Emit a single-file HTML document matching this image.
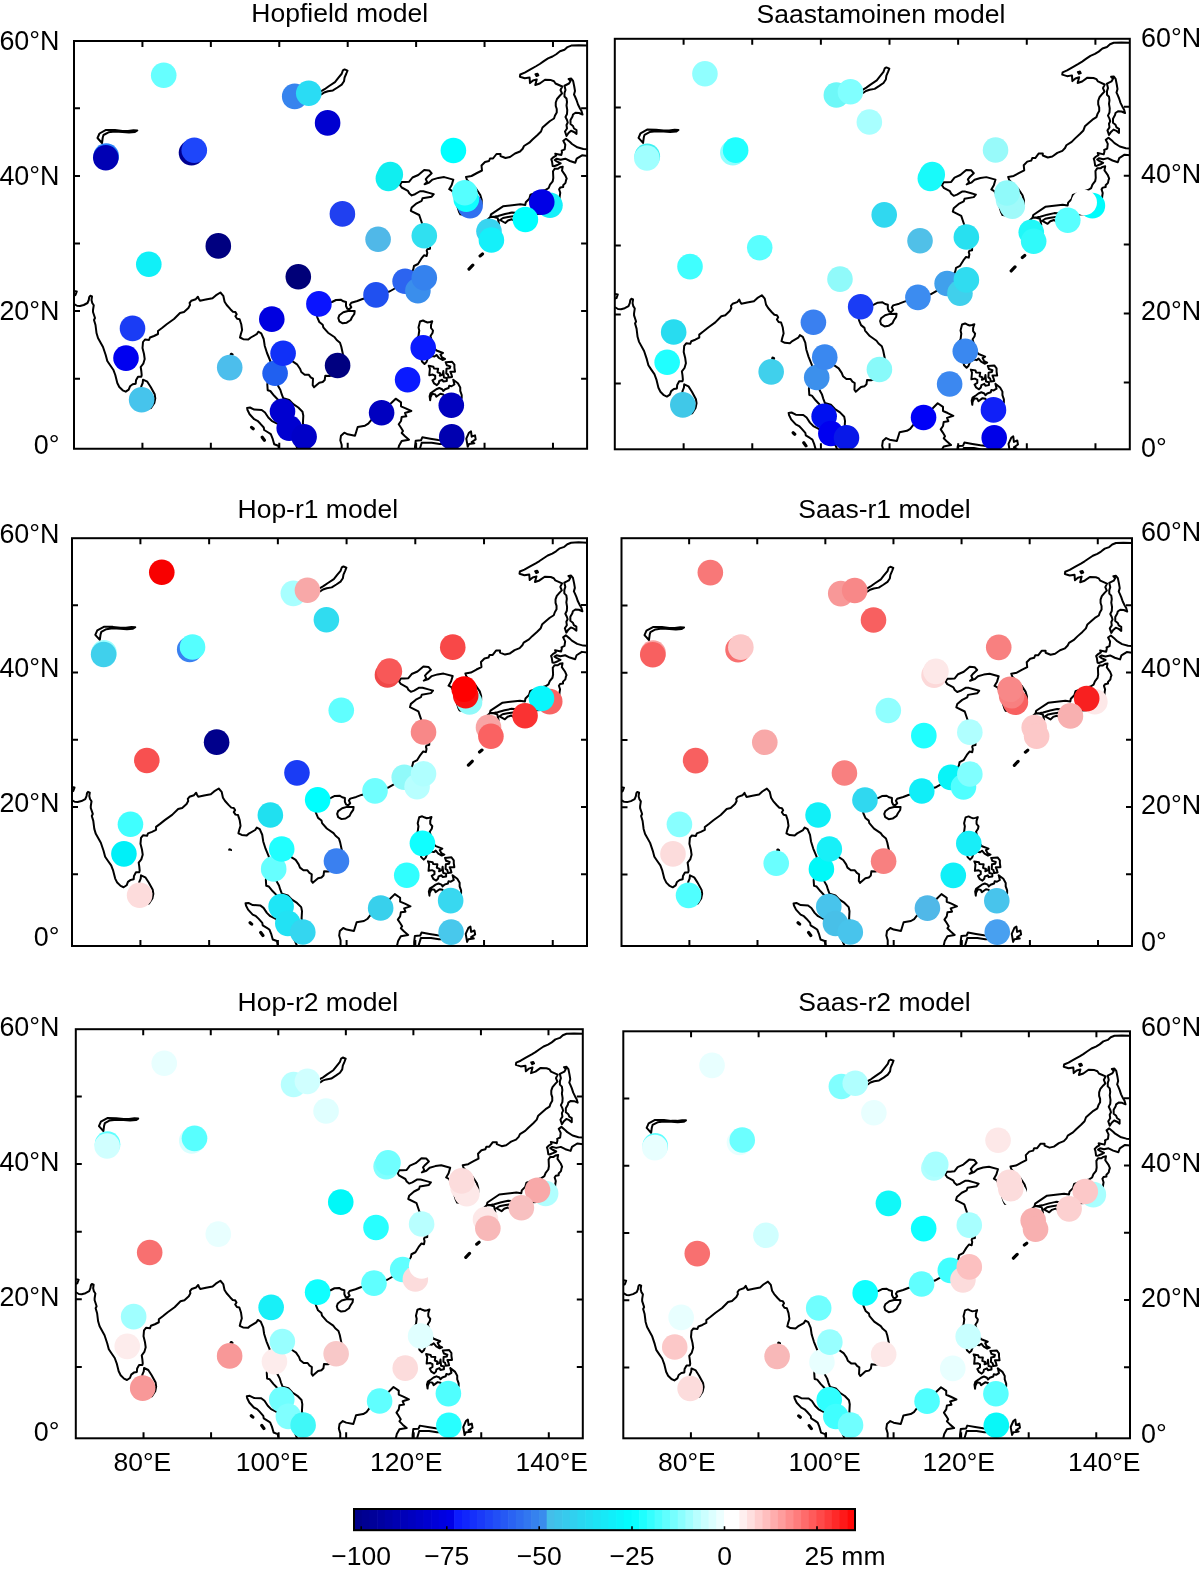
<!DOCTYPE html><html><head><meta charset="utf-8"><style>html,body{margin:0;padding:0;background:#fff;width:1200px;height:1574px;overflow:hidden}svg{position:absolute;left:0;top:0;display:block;will-change:transform}text{font-family:"Liberation Sans", sans-serif;font-size:26.5px;fill:#000}</style></head><body>
<svg width="1200" height="1574" viewBox="0 0 1200 1574">
<clipPath id="c0"><rect x="74" y="41" width="513.1" height="407.75"/></clipPath>
<g clip-path="url(#c0)">
<path d="M74.5 304.25 77 305.75 80 306 83.75 305 87.5 303 88.75 300 89.25 297 90.25 295.75 92 296.5 91.5 300 92.25 303 93.75 305.25 93 310 93 312 95 318 94 320 95.5 325 96.5 333 98 338 103 347 105.7 355 107.3 361 110 365 113.3 369.7 115.3 375 117.3 383 119.3 387 122.7 390.3 125.7 391.7 128.7 389.7 130 386.3 132.7 384.3 135.7 383.7 136 380.3 138 376.7 141.3 376.7 141.7 375 141.3 371 140.7 367 143.3 363.7 144.7 359 144 354 142.5 348 143 342 145 339.5 149 340 150 337.5 154 336 158 334 158 331 162 328 167 324 174 319 180 313 184 312 188.4 308 190 305 189.6 302.9 191.25 300.8 195.8 299.2 197.9 296.7 198.75 298.75 200 300.8 205.8 299.6 212.5 298.3 215.8 295.4 220.4 292.5 223.3 295.8 224.6 301.7 226.7 305 230.4 309.2 232.9 311.7 235.4 312.1 236.7 314.2 235.4 316.25 237.1 318.75 239.6 319.2 241.25 324.2 242.1 330 240.8 334.2 240 337.5 243.3 339.2 248.3 339.6 250.8 337.5 256.7 334.2 258.3 331.7 261.25 333.3 263.7 339 264.7 345.7 267 353 270.3 361 271 368 269.5 376 267.3 384.3 267.7 390.3 270.3 391 274.2 395.8 277.5 399.2 283 406 289 415 295 425 300 433 305 440 307 437 305 430 302.9 423.3 303.3 415.8 302.5 411.7 298.3 407.5 293.3 404.2 289.2 400 283.3 398.3 281.7 394.2 280.4 390 278.3 386.3 276 380 276 372 279 365 282.7 357 287 358 293 361.7 297 364.3 300 368.7 301.3 372 304.7 374.7 308.7 374.7 310.7 377.3 313 378.7 312.7 385.3 314 387.3 319.3 382.7 322.7 382 324.7 380 325.3 375.7 329.3 376 338 374 343 368 344 360 342.7 353.3 341.3 346.7 340 342.7 336.7 340 334.7 337.3 328 332.7 323.3 327.3 322.7 324.7 319.3 322 317.3 317.3 316 312 320 305 326 303 332 302 336 300 340.7 299.7 343.3 301.3 346 302 346 306 347.3 308.7 349.3 309.3 351.3 307.3 350 304.7 351.3 302.7 357.3 301 362.5 299 370 297 376 295 383 293 389.5 291.5 394.75 288.5 400 285 406 280 411 274 413.3 269.3 414 266 418 264 421.3 258.7 424 255.3 426.7 256 427.3 252.7 426.7 250.7 427.3 249.3 430 248.7 430 242 426 232 422 223.3 419.2 215 410.8 210.8 411.7 207.5 416.7 203.3 421.7 200.8 422.5 198.3 431.7 196.7 433.75 194.2 429.2 192.9 423.3 191.25 420 191.25 415 194.2 411.7 195.4 409.2 193.3 407.9 190.8 401.7 187.5 400 185 401.7 182.1 405 182.1 409.2 181.7 412.5 177.5 418.3 175 424.2 170 429.2 170.4 431.7 173.3 427.9 176.7 425.8 179.2 427.1 182.1 424.6 184.2 429.2 182.5 432.5 179.6 438.3 177.9 444.2 177.1 453.3 179.6 451.7 185 449.2 189.2 452.1 190.8 455 196 456 202 459 211.7 460.3 214.3 466 215 472 213 477.7 210 481.7 204 481.7 199.7 480.3 195 476.3 189 470 183 467 180 466 177 471.5 176 477 173 482 170.5 481.5 165.5 485 162 489 161 490 158.5 493 158.5 496.5 154 500.5 154 500.5 156 505.5 158 510 157 515 153.5 520 151.5 522.7 148.7 524 146 529.3 142.7 532.5 139.5 537.5 135 541 131.5 542.5 127.5 546.5 124 550 121 554 118.5 555 115.5 556.75 112.5 556.75 109 555.75 106 555.75 102.5 557 99 560 95.5 562 93.5 560.5 90 562.25 86.5 555.5 83.5 554 81.25 551 80.1 545 79.75 539.75 83.5 535.25 85 536.75 79.4 533 80.5 530 83.1 529.6 77.5 524.75 78.25 519.9 76.75 520.25 74.5 524.75 72.6 530 69.6 536 66.25 539.75 64 543.5 61.4 548 58.4 552.5 56.5 556.25 54.25 560 51.25 564.5 49.75 567.5 47.1 571.25 45.6 578.75 45.25 588 45.6M74 291 76.8 291.5 75.5 295 74 295.5M141.3 386.3 142.7 383 143 379.7 147.3 381.7 150.7 387 154.7 394.3 155.3 398.3 154.3 403 151 408 146 409 142 404 140.5 396 141.3 386.3M339.3 315.3 343.3 312.3 348 311 354.7 311 354.3 314 352 317.3 350.7 320 346.7 322.7 342.7 323.3 339.3 321.3 338.3 318 339.3 315.3M428.5 275.5 430 280 427.5 291 423.5 299 420 292 421.5 283 424.5 277 428.5 275.5M102 143 97.5 138 99.5 133.5 106 129.9 115 130 122.5 130.9 128 130.9 133.5 130.2 137.3 130.4 135 131.9 129 132.4 122.5 131.9 115 131.5 108.5 132.3 103.5 135 102.75 137.5 102 143M316 95.5 321.7 90.8 324.6 89.2 328.75 86.25 335 82.1 338.3 77.9 341.7 73.75 342.9 70.4 344.6 69.4 347.5 70.6 346.25 73.75 344.6 77.5 344 81.25 341.7 84.6 337.5 87.5 332.9 90.4 327.9 91.25 324.2 92.5 321.7 94.2 316 95.5M279.2 450 278.3 445.8 274.2 444.2 272.5 438.3 270.8 434.2 268.3 432.5 264.2 430 263.75 427.5 260 423.3 257.5 420.8 254.2 419.2 249.6 414.2 247.5 410 247.1 407.9 250 407.5 254.2 409.6 261.7 410 265 412.5 268.3 417.5 271.7 420.8 276.7 423.3 282 427 288 433 294 440 298 450M341.7 450 341.7 445 340.3 440.3 341 435.7 344.3 432.7 347.7 434.3 355 435.7 357.7 427 365 425.7 368.3 423.7 371 420.3 376 416 382 411 387 407 391 403.3 395.7 398.7 401 402.3 401 406.3 405.7 408.3 411.3 411 405 413 406.3 416.3 401.7 417 401 421 398.7 424.3 401 427.7 403 431 401.7 433 405 436.3 409 439.7 401.7 441 399 445.7 398 450M415 450 415 446.7 415.7 440.7 421 440.3 422.3 437.3 430.3 438.7 438.3 440 446 441 452 439 456 440 452 443 446 444 439.7 444 431.7 442.7 421.7 442.7 419.5 450M467.7 446.7 466.3 438.7 469 432.7 471 431.3 471.7 436.7 475 435.3 475.7 439.3 471.7 442 474.3 443.3 469 444 467.7 446.7M418.5 336 419.25 330.5 418.5 327.5 420 321.5 423 320.5 425 321.5 427.5 322.5 430 322 432.25 321.25 431 325 431 328 433 330.5 432.5 333 430.5 336 432 342 434 348 436.5 350.5 443 353 440.5 354.5 442 357.5 445 359 442.5 360 439 358 436.5 355 434.5 356.5 432 356 428 358 426.5 362 424.5 364 422 361.5 421 357 418 352 415 345 416 340 418.5 336M428.75 365.8 433.4 366.7 434 368.5 438.1 368.75 437.5 372.25 440.4 373.4 439.8 375.75 442.75 374.6 443.3 371.1 443.9 377.5 446.8 378.1 446.8 381 443.3 381.6 442.2 379.8 439.25 381 438.7 383.3 436.9 385.1 434 383.3 432.5 380.4 435.2 378.7 435.2 375.75 432.8 374.6 429.3 375.2 429.9 368.75 428.75 365.8M445.7 362.3 452.1 361.75 454.4 364.7 454.4 367.6 455 371.7 450.3 371.7 451.5 374.6 452.1 376.9 448.6 377.5 448 374.6 446.25 373.4 446.5 368.75 449.75 368.2 450.3 366.4 446.8 365.25 445.7 362.3M453.25 379.8 457.9 383.3 460.25 387.4 460.25 390.9 461.7 395 461.7 397.9 460 402 455 406 448 404 445 398 443.3 394.4 440.4 393.8 436.3 396.75 435.2 394.4 432.25 393.8 430.5 397.3 430.2 400.25 429.6 396.2 430.5 393.25 434 390.9 436.3 389.2 439.25 388 442.2 389.2 443.3 390.9 445.1 389.2 448.6 388 449.2 385.7 451.5 386.25 454.4 384.5 453.25 379.8M553 171.3 553.3 178 552.7 181.3 550 184.7 548.7 188 545.7 189.9 538 192 530.5 194.6 529.3 198.7 525.8 202.2 525.25 205.1 520.3 204.3 503 206.3 491 214.3 490.3 217 495 216.5 498 216 505 214 512 212.5 518 213 524 219 530 216 537 214 545 213.5 551.6 208.9 559 206 559.7 196.3 560.25 192.8 559.1 189.3 560.25 187.6 563.2 187 563.2 185.25 565.5 182.9 566.1 180 566.7 178.7 565.3 175.3 562 170.7 562.7 166.7 560 167.3 558 168.7 554.7 168.7 553 171.3M490.3 217 493 216.8 497.7 218 499 224 496 231 490 233 487 227 486 221 490.3 217M500 220 505.3 223 508 220.5 511.7 219.3 515 221 518 220 515 216 508 217 503 218 500 220M552.7 166 552 161.3 551.3 159.3 553.3 157.3 556 155.7 555.3 153.7 561.3 155 562 152 561.7 150.7 564.7 149.3 565.3 144.7 563.3 140.7 566 138.7 570 142 572 144 577.3 147.3 583.3 149 588 149.3 588 156 582 155.3 576.7 158.7 575.3 162.7 570 161 565.3 158.7 560.7 159.7 556.7 158.7 554.7 160 556.7 161.3 560.7 163.3 558 164.7 554 166.3 552.7 166M565.5 90 564.5 93 564.5 96.5 566.5 98.5 567 102 566.5 105.5 567.25 110 567 114 565.5 117 567 120 567.75 122.5 566.5 125 567 128.5 565 131.5 566.5 136 568.5 133 571 130.75 574 132 576.5 134 576.5 130 574 128.5 573 126 570.5 124 570.5 120 572.5 116.5 573 114.5 575.5 112.75 579 113 582.5 114.5 581.5 111 580 108.5 578 104.5 576.5 100 575 96.5 574 94.5 575 91 574.25 86.5 573.1 80.9 571.25 78.6 568.6 79 570.5 80.9 569 83.5 566 85 564.5 85.75 565.5 90M535.5 74.3 537.5 73.8 538.3 75.3 536.5 76 535.5 74.3" fill="none" stroke="#000" stroke-width="2" stroke-linejoin="round" stroke-linecap="round"/>
<path d="M251.6 427.4 253.2 428.8M262.2 437.2 264.4 440.2M480.1 255.9 482.5 254M469 269.1 472.8 265.2M231.3 354.3 232 354.6" fill="none" stroke="#000" stroke-width="3.2" stroke-linecap="round"/>
<circle cx="163.7" cy="75.2" r="12.8" fill="#66ffff"/>
<circle cx="106.2" cy="156" r="12.8" fill="#2882fa"/>
<circle cx="105.8" cy="157.8" r="12.8" fill="#0000b4"/>
<circle cx="191.5" cy="152.7" r="12.8" fill="#000090"/>
<circle cx="194.3" cy="150.2" r="12.8" fill="#1e46fa"/>
<circle cx="294.7" cy="96.4" r="12.8" fill="#3784ee"/>
<circle cx="308.75" cy="93.2" r="12.8" fill="#2adcf4"/>
<circle cx="327.6" cy="122.9" r="12.8" fill="#0000d0"/>
<circle cx="218.3" cy="245.9" r="12.8" fill="#000080"/>
<circle cx="453.4" cy="150.5" r="12.8" fill="#00ffff"/>
<circle cx="388.4" cy="178.4" r="12.8" fill="#10eef0"/>
<circle cx="390.3" cy="174.6" r="12.8" fill="#10eef0"/>
<circle cx="470.1" cy="205.6" r="12.8" fill="#3070f0"/>
<circle cx="466.3" cy="199.2" r="12.8" fill="#10ffff"/>
<circle cx="464.8" cy="192.7" r="12.8" fill="#55ffff"/>
<circle cx="549.95" cy="205.25" r="12.8" fill="#14f0fa"/>
<circle cx="541.75" cy="202.1" r="12.8" fill="#0000e6"/>
<circle cx="525.4" cy="219.5" r="12.8" fill="#00ffff"/>
<circle cx="489" cy="231.2" r="12.8" fill="#38d4f0"/>
<circle cx="491.4" cy="240" r="12.8" fill="#14f0fa"/>
<circle cx="342.4" cy="213.9" r="12.8" fill="#2040f0"/>
<circle cx="378.1" cy="239.3" r="12.8" fill="#50b8e8"/>
<circle cx="424.3" cy="235.8" r="12.8" fill="#30e0f0"/>
<circle cx="148.8" cy="264.3" r="12.8" fill="#10f0f8"/>
<circle cx="298.3" cy="276.8" r="12.8" fill="#000078"/>
<circle cx="318.9" cy="303.9" r="12.8" fill="#0a14ff"/>
<circle cx="132.5" cy="328.4" r="12.8" fill="#1a3cf5"/>
<circle cx="126" cy="358.1" r="12.8" fill="#0000f0"/>
<circle cx="141.6" cy="399.8" r="12.8" fill="#46c4ec"/>
<circle cx="229.7" cy="367.6" r="12.8" fill="#4cbeec"/>
<circle cx="271.8" cy="319.1" r="12.8" fill="#0000e0"/>
<circle cx="275.1" cy="373.3" r="12.8" fill="#2060f0"/>
<circle cx="283.1" cy="353.3" r="12.8" fill="#1030f8"/>
<circle cx="337.6" cy="365.5" r="12.8" fill="#000080"/>
<circle cx="282.5" cy="411.2" r="12.8" fill="#0000d0"/>
<circle cx="289.2" cy="428.1" r="12.8" fill="#0000d0"/>
<circle cx="304.1" cy="436.7" r="12.8" fill="#0000c8"/>
<circle cx="376" cy="294.9" r="12.8" fill="#2050f0"/>
<circle cx="405.1" cy="281.3" r="12.8" fill="#2c64f0"/>
<circle cx="417.9" cy="290.8" r="12.8" fill="#3a8eec"/>
<circle cx="424.3" cy="277.8" r="12.8" fill="#3582ee"/>
<circle cx="423.2" cy="347.7" r="12.8" fill="#0a1aff"/>
<circle cx="407.6" cy="379.8" r="12.8" fill="#0a1aff"/>
<circle cx="381.6" cy="412.7" r="12.8" fill="#0000c0"/>
<circle cx="451.3" cy="405.3" r="12.8" fill="#0000c0"/>
<circle cx="451.75" cy="436.9" r="12.8" fill="#0000b0"/>
</g>
<rect x="74" y="41" width="513.1" height="407.75" fill="none" stroke="#000" stroke-width="2"/>
<path d="M142.43 41v6M142.43 448.75v-6M210.85 41v6M210.85 448.75v-6M279.27 41v6M279.27 448.75v-6M347.7 41v6M347.7 448.75v-6M416.12 41v6M416.12 448.75v-6M484.55 41v6M484.55 448.75v-6M552.98 41v6M552.98 448.75v-6M74 378.7h6M587.1 378.7h-6M74 311.1h6M587.1 311.1h-6M74 243.5h6M587.1 243.5h-6M74 175.9h6M587.1 175.9h-6M74 108.3h6M587.1 108.3h-6" stroke="#000" stroke-width="2" fill="none"/>
<text x="251.3" y="22.2">Hopfield model</text>
<text x="59.5" y="50.15" text-anchor="end" style="font-size:26.9px">60°N</text>
<text x="59.5" y="184.85" text-anchor="end" style="font-size:26.9px">40°N</text>
<text x="59.5" y="319.55" text-anchor="end" style="font-size:26.9px">20°N</text>
<text x="59.5" y="454.25" text-anchor="end" style="font-size:26.9px">0°</text>
<clipPath id="c1"><rect x="614.8" y="38.8" width="515" height="410.5"/></clipPath>
<g clip-path="url(#c1)">
<path d="M615.49 307.48 618 309.01 621.01 309.25 624.77 308.23 628.53 306.18 629.78 303.12 630.28 300.06 631.29 298.78 633.04 299.54 632.54 303.11 633.29 306.17 634.8 308.47 634.05 313.31 634.05 315.35 636.05 321.47 635.05 323.51 636.56 328.61 637.56 336.77 639.07 341.87 644.08 351.04 646.79 359.19 648.4 365.31 651.11 369.39 654.42 374.17 656.42 379.58 658.43 387.73 660.44 391.81 663.85 395.17 666.86 396.59 669.87 394.55 671.17 391.08 673.88 389.03 676.89 388.42 677.19 384.95 679.19 381.27 682.5 381.27 682.9 379.53 682.5 375.45 681.9 371.37 684.51 368 685.91 363.2 685.21 358.11 683.7 351.99 684.21 345.87 686.21 343.31 690.22 343.82 691.23 341.26 695.24 339.73 699.25 337.68 699.25 334.62 703.26 331.55 708.28 327.46 715.3 322.35 721.32 316.22 725.33 315.19 729.74 311.1 731.35 308.04 730.94 305.9 732.6 303.75 737.16 302.11 739.27 299.56 740.12 301.65 741.38 303.74 747.19 302.5 753.91 301.17 757.22 298.2 761.84 295.24 764.75 298.6 766.05 304.61 768.16 307.98 771.87 312.25 774.38 314.8 776.89 315.2 778.19 317.34 776.89 319.44 778.59 321.98 781.1 322.44 782.76 327.54 783.61 333.45 782.31 337.74 781.5 341.11 784.81 342.83 789.83 343.23 792.34 341.09 798.26 337.71 799.86 335.16 802.82 336.78 805.28 342.59 806.28 349.43 808.59 356.87 811.9 365.02 812.6 372.16 811.1 380.33 808.89 388.8 809.3 394.92 811.9 395.63 815.82 400.51 819.13 403.98 824.64 410.9 830.66 420.07 836.68 430.26 841.7 438.42 846.72 445.55 848.72 442.48 846.71 435.35 844.61 428.52 845.01 420.86 844.21 416.68 839.99 412.41 834.98 409.05 830.86 404.77 824.94 403.05 823.34 398.87 822.03 394.59 819.93 390.82 817.62 384.39 817.62 376.23 820.63 369.09 824.34 360.92 828.65 361.93 834.67 365.7 838.68 368.34 841.69 372.83 843 376.19 846.41 378.94 850.42 378.93 852.43 381.58 854.73 383 854.43 389.74 855.74 391.77 861.05 387.07 864.46 386.35 866.47 384.31 867.07 379.92 871.08 380.22 879.81 378.16 884.83 372.04 885.83 363.87 884.52 357.04 883.12 350.31 881.81 346.23 878.5 343.48 876.5 340.73 869.78 336.05 865.06 330.55 864.46 327.9 861.05 325.15 859.04 320.36 857.74 314.96 861.75 307.81 867.77 305.76 873.78 304.73 877.8 302.68 882.51 302.37 885.12 304 887.83 304.71 887.83 308.79 889.13 311.54 891.14 312.15 893.14 310.1 891.84 307.45 893.14 305.41 899.16 303.67 904.38 301.62 911.9 299.56 917.92 297.51 924.94 295.46 931.46 293.92 936.73 290.85 941.99 287.27 948.01 282.16 953.02 276.03 955.33 271.23 956.03 267.86 960.05 265.82 963.35 260.4 966.06 256.93 968.77 257.64 969.37 254.27 968.77 252.23 969.37 250.81 972.08 250.19 972.08 243.35 968.07 233.16 964.05 224.29 961.24 215.83 952.82 211.56 953.72 208.19 958.73 203.9 963.75 201.34 964.55 198.79 973.78 197.14 975.84 194.59 971.27 193.27 965.35 191.6 962.04 191.6 957.03 194.62 953.72 195.85 951.21 193.71 949.91 191.17 943.69 187.81 941.98 185.26 943.69 182.3 947 182.3 951.21 181.88 954.52 177.59 960.34 175.03 966.25 169.92 971.27 170.32 973.78 173.27 969.97 176.75 967.86 179.3 969.16 182.26 966.66 184.4 971.27 182.66 974.58 179.7 980.4 177.95 986.32 177.13 995.44 179.66 993.84 185.17 991.33 189.46 994.24 191.09 997.15 196.39 998.16 202.51 1001.17 212.39 1002.47 215.04 1008.19 215.75 1014.21 213.7 1019.92 210.63 1023.94 204.5 1023.93 200.11 1022.53 195.32 1018.52 189.21 1012.2 183.1 1009.19 180.04 1008.18 176.99 1013.7 175.96 1019.22 172.89 1024.23 170.33 1023.73 165.23 1027.24 161.65 1031.25 160.62 1032.26 158.07 1035.27 158.07 1038.78 153.47 1042.79 153.46 1042.79 155.5 1047.8 157.54 1052.32 156.51 1057.33 152.93 1062.35 150.88 1065.06 148.02 1066.36 145.26 1071.68 141.89 1074.88 138.62 1079.9 134.02 1083.41 130.44 1084.91 126.36 1088.93 122.78 1092.44 119.71 1096.45 117.16 1097.45 114.1 1099.21 111.03 1099.21 107.46 1098.2 104.4 1098.2 100.83 1099.46 97.26 1102.46 93.69 1104.47 91.64 1102.97 88.07 1104.72 84.5 1097.95 81.45 1096.44 79.16 1093.44 77.99 1087.42 77.65 1082.15 81.48 1077.64 83.02 1079.14 77.3 1075.38 78.43 1072.37 81.09 1071.97 75.38 1067.1 76.15 1062.24 74.63 1062.59 72.33 1067.1 70.39 1072.37 67.32 1078.39 63.89 1082.15 61.59 1085.91 58.93 1090.42 55.86 1094.94 53.92 1098.7 51.61 1102.46 48.55 1106.97 47.01 1109.98 44.3 1113.74 42.76 1121.27 42.39 1130.55 42.73M614.99 293.96 617.8 294.47 616.49 298.04 614.99 298.55M682.5 391.06 683.91 387.69 684.21 384.32 688.52 386.36 691.93 391.76 695.95 399.2 696.55 403.27 695.55 408.07 692.24 413.18 687.22 414.21 683.21 409.11 681.7 400.95 682.5 391.06M881.11 318.28 885.12 315.22 889.83 313.88 896.56 313.87 896.15 316.93 893.85 320.3 892.54 323.06 888.53 325.82 884.52 326.44 881.11 324.41 880.11 321.04 881.11 318.28M970.58 277.53 972.08 282.12 969.58 293.34 965.57 301.51 962.05 294.37 963.56 285.19 966.57 279.07 970.58 277.53M643.06 142.94 638.54 137.85 640.55 133.26 647.07 129.58 656.1 129.66 663.62 130.57 669.14 130.56 674.65 129.83 678.46 130.03 676.16 131.56 670.14 132.08 663.62 131.59 656.1 131.19 649.58 132.02 644.56 134.78 643.81 137.33 643.06 142.94M857.71 94.11 863.43 89.31 866.34 87.67 870.5 84.66 876.77 80.41 880.08 76.12 883.49 71.88 884.69 68.46 886.4 67.44 889.31 68.66 888.05 71.88 886.4 75.7 885.8 79.53 883.49 82.95 879.28 85.92 874.66 88.88 869.65 89.76 865.94 91.04 863.43 92.78 857.71 94.11M820.84 455.79 819.93 451.51 815.82 449.89 814.12 443.87 812.41 439.69 809.9 437.96 805.79 435.42 805.34 432.87 801.58 428.59 799.07 426.05 795.76 424.42 791.14 419.33 789.04 415.05 788.63 412.91 791.54 412.49 795.76 414.63 803.28 415.02 806.59 417.57 809.9 422.66 813.31 426.02 818.33 428.56 823.64 432.33 829.66 438.44 835.68 445.57 839.7 455.76M883.53 455.68 883.53 450.58 882.13 445.79 882.83 441.1 886.14 438.03 889.55 439.66 896.87 441.07 899.58 432.19 906.9 430.85 910.21 428.81 912.92 425.34 917.93 420.94 923.95 415.83 928.97 411.74 932.98 407.96 937.69 403.26 943.01 406.92 943.01 411 947.72 413.03 953.34 415.78 947.02 417.83 948.33 421.19 943.71 421.92 943.01 426 940.7 429.37 943.01 432.83 945.02 436.19 943.71 438.24 947.02 441.6 951.04 445.06 943.71 446.4 941.01 451.2 940 455.58M957.06 455.55 957.06 452.19 957.76 446.07 963.07 445.65 964.38 442.59 972.4 444 980.43 445.31 988.15 446.32 994.17 444.27 998.18 445.28 994.17 448.35 988.15 449.38 981.83 449.39 973.81 448.08 963.78 448.1 961.57 455.55M1009.92 452.1 1008.51 443.94 1011.22 437.81 1013.23 436.38 1013.93 441.89 1017.24 440.45 1017.94 444.53 1013.93 447.29 1016.54 448.62 1011.22 449.34 1009.92 452.1M960.55 339.26 961.31 333.65 960.55 330.59 962.06 324.47 965.07 323.44 967.07 324.46 969.58 325.47 972.09 324.96 974.35 324.19 973.09 328.02 973.09 331.08 975.1 333.62 974.6 336.18 972.59 339.24 974.1 345.36 976.1 351.47 978.61 354.02 985.13 356.56 982.62 358.09 984.13 361.15 987.14 362.68 984.63 363.7 981.12 361.67 978.61 358.61 976.61 360.14 974.1 359.64 970.09 361.69 968.58 365.77 966.58 367.81 964.07 365.27 963.06 360.68 960.06 355.58 957.05 348.45 958.05 343.35 960.55 339.26M970.84 369.64 975.5 370.55 976.11 372.39 980.22 372.63 979.62 376.2 982.53 377.37 981.92 379.77 984.88 378.59 985.44 375.02 986.04 381.55 988.95 382.16 988.95 385.11 985.44 385.73 984.33 383.9 981.37 385.13 980.82 387.47 979.02 389.31 976.11 387.48 974.6 384.53 977.31 382.79 977.31 379.78 974.9 378.61 971.39 379.23 971.99 372.65 970.84 369.64M987.84 366.04 994.26 365.47 996.57 368.47 996.57 371.43 997.17 375.61 992.46 375.62 993.66 378.58 994.26 380.92 990.75 381.54 990.15 378.58 988.39 377.36 988.64 372.62 991.9 372.05 992.46 370.21 988.95 369.05 987.84 366.04M995.42 383.88 1000.08 387.44 1002.44 391.62 1002.44 395.19 1003.89 399.37 1003.9 402.33 1002.19 406.51 997.18 410.6 990.15 408.57 987.14 402.46 985.44 398.79 982.53 398.18 978.42 401.2 977.31 398.8 974.35 398.2 972.6 401.77 972.3 404.78 971.7 400.65 972.6 397.64 976.11 395.23 978.42 393.5 981.37 392.27 984.33 393.49 985.44 395.22 987.24 393.48 990.75 392.25 991.36 389.9 993.66 390.46 996.57 388.67 995.42 383.88M1095.45 171.02 1095.75 177.85 1095.15 181.22 1092.44 184.69 1091.14 188.06 1088.13 190 1080.41 192.16 1072.88 194.83 1071.68 199.01 1068.17 202.59 1067.62 205.55 1062.65 204.74 1045.3 206.81 1033.27 214.99 1032.56 217.75 1037.28 217.23 1040.29 216.71 1047.31 214.66 1054.33 213.12 1060.35 213.62 1066.37 219.73 1072.39 216.66 1079.41 214.6 1087.43 214.08 1094.05 209.38 1101.47 206.4 1102.18 196.51 1102.73 192.94 1101.57 189.37 1102.73 187.63 1105.68 187.02 1105.68 185.23 1107.99 182.83 1108.59 179.87 1109.19 178.54 1107.79 175.08 1104.48 170.39 1105.18 166.31 1102.47 166.93 1100.47 168.36 1097.16 168.36 1095.45 171.02M1032.56 217.75 1035.27 217.54 1039.99 218.75 1041.29 224.87 1038.28 232.02 1032.26 234.07 1029.25 227.95 1028.25 221.83 1032.56 217.75M1042.29 220.79 1047.61 223.84 1050.32 221.29 1054.03 220.05 1057.34 221.78 1060.35 220.76 1057.34 216.68 1050.32 217.71 1045.3 218.74 1042.29 220.79M1095.15 165.61 1094.45 160.82 1093.75 158.78 1095.75 156.74 1098.46 155.1 1097.76 153.06 1103.78 154.38 1104.48 151.32 1104.18 149.99 1107.19 148.56 1107.79 143.86 1105.78 139.79 1108.49 137.74 1112.5 141.1 1114.51 143.14 1119.82 146.49 1125.84 148.22 1130.56 148.52 1130.56 155.35 1124.54 154.65 1119.22 158.12 1117.82 162.21 1112.5 160.48 1107.79 158.14 1103.17 159.17 1099.16 158.16 1097.16 159.49 1099.16 160.81 1103.17 162.84 1100.47 164.28 1096.45 165.92 1095.15 165.61M1107.98 88.07 1106.98 91.13 1106.98 94.7 1108.99 96.73 1109.49 100.3 1108.99 103.87 1109.74 108.46 1109.49 112.54 1107.98 115.61 1109.49 118.66 1110.24 121.21 1108.99 123.77 1109.49 127.33 1107.48 130.4 1108.99 134.99 1111 131.92 1113.5 129.62 1116.51 130.89 1119.02 132.93 1119.02 128.85 1116.51 127.32 1115.51 124.77 1113 122.74 1113 118.66 1115.01 115.08 1115.51 113.04 1118.01 111.25 1121.53 111.5 1125.04 113.03 1124.03 109.46 1122.53 106.91 1120.52 102.83 1119.02 98.25 1117.51 94.68 1116.51 92.64 1117.51 89.07 1116.76 84.48 1115.6 78.77 1113.75 76.43 1111.09 76.84 1113 78.77 1111.49 81.43 1108.48 82.96 1106.98 83.73 1107.98 88.07M1077.89 72.1 1079.89 71.59 1080.7 73.12 1078.89 73.84 1077.89 72.1" fill="none" stroke="#000" stroke-width="2" stroke-linejoin="round" stroke-linecap="round"/>
<path d="M793.15 432.79 794.75 434.21M803.78 442.77 805.99 445.82M1022.34 257.44 1024.74 255.5M1011.2 270.93 1015.01 266.94M772.78 358.26 773.48 358.56" fill="none" stroke="#000" stroke-width="3.2" stroke-linecap="round"/>
<circle cx="704.94" cy="73.68" r="12.8" fill="#90ffff"/>
<circle cx="647.27" cy="156.2" r="12.8" fill="#40f0f0"/>
<circle cx="646.87" cy="158.04" r="12.8" fill="#a0ffff"/>
<circle cx="732.83" cy="152.68" r="12.8" fill="#90ffff"/>
<circle cx="735.64" cy="150.13" r="12.8" fill="#20ffff"/>
<circle cx="836.35" cy="95.07" r="12.8" fill="#6ef8f8"/>
<circle cx="850.44" cy="91.78" r="12.8" fill="#80ffff"/>
<circle cx="869.35" cy="122.04" r="12.8" fill="#a8ffff"/>
<circle cx="759.73" cy="247.71" r="12.8" fill="#5affff"/>
<circle cx="995.54" cy="149.98" r="12.8" fill="#98fafa"/>
<circle cx="930.34" cy="178.55" r="12.8" fill="#18fafa"/>
<circle cx="932.25" cy="174.67" r="12.8" fill="#18fafa"/>
<circle cx="1012.3" cy="206.15" r="12.8" fill="#a0fafa"/>
<circle cx="1008.49" cy="199.63" r="12.8" fill="#a0fafa"/>
<circle cx="1006.98" cy="193" r="12.8" fill="#90fafa"/>
<circle cx="1092.4" cy="205.66" r="12.8" fill="#00fcfc"/>
<circle cx="1084.17" cy="202.46" r="12.8" fill="#ffffff"/>
<circle cx="1067.77" cy="220.23" r="12.8" fill="#58ffff"/>
<circle cx="1031.26" cy="232.23" r="12.8" fill="#20f8f8"/>
<circle cx="1033.67" cy="241.21" r="12.8" fill="#30fafa"/>
<circle cx="884.21" cy="214.84" r="12.8" fill="#30d8f0"/>
<circle cx="920.02" cy="240.69" r="12.8" fill="#50c0e8"/>
<circle cx="966.36" cy="237.04" r="12.8" fill="#28e0f0"/>
<circle cx="690.01" cy="266.6" r="12.8" fill="#40ffff"/>
<circle cx="839.98" cy="279.08" r="12.8" fill="#90fafa"/>
<circle cx="860.64" cy="306.69" r="12.8" fill="#1a3cf5"/>
<circle cx="673.67" cy="332.01" r="12.8" fill="#28dcf0"/>
<circle cx="667.15" cy="362.32" r="12.8" fill="#20ffff"/>
<circle cx="682.81" cy="404.83" r="12.8" fill="#40c8e8"/>
<circle cx="771.18" cy="371.83" r="12.8" fill="#40d0ec"/>
<circle cx="813.4" cy="322.28" r="12.8" fill="#3a80f0"/>
<circle cx="816.72" cy="377.56" r="12.8" fill="#3c90ec"/>
<circle cx="824.74" cy="357.15" r="12.8" fill="#3a88f0"/>
<circle cx="879.41" cy="369.5" r="12.8" fill="#88fafa"/>
<circle cx="824.14" cy="416.21" r="12.8" fill="#0010f0"/>
<circle cx="830.87" cy="433.44" r="12.8" fill="#0000f0"/>
<circle cx="846.5" cy="437.7" r="12.8" fill="#0818e8"/>
<circle cx="917.92" cy="297.41" r="12.8" fill="#3c8cf0"/>
<circle cx="947.11" cy="283.49" r="12.8" fill="#40a0ec"/>
<circle cx="959.95" cy="293.15" r="12.8" fill="#40d0ec"/>
<circle cx="966.37" cy="279.88" r="12.8" fill="#30dcf0"/>
<circle cx="965.27" cy="351.19" r="12.8" fill="#3a88f0"/>
<circle cx="949.63" cy="383.96" r="12.8" fill="#3c88f0"/>
<circle cx="923.55" cy="417.56" r="12.8" fill="#0000f8"/>
<circle cx="993.46" cy="409.89" r="12.8" fill="#1020f8"/>
<circle cx="994.2" cy="437.7" r="12.8" fill="#0000e8"/>
</g>
<rect x="614.8" y="38.8" width="515" height="410.5" fill="none" stroke="#000" stroke-width="2"/>
<path d="M683.6 38.8v6M683.64 449.3v-6M752.23 38.8v6M752.28 449.3v-6M820.87 38.8v6M820.91 449.3v-6M889.5 38.8v6M889.55 449.3v-6M958.14 38.8v6M958.18 449.3v-6M1026.78 38.8v6M1026.82 449.3v-6M1095.41 38.8v6M1095.46 449.3v-6M614.8 383.42h6M1129.8 382.52h-6M614.8 314.47h6M1129.8 313.56h-6M614.8 245.51h6M1129.8 244.61h-6M614.8 176.55h6M1129.8 175.65h-6M614.8 107.6h6M1129.8 106.69h-6" stroke="#000" stroke-width="2" fill="none"/>
<text x="756.5" y="22.6">Saastamoinen model</text>
<text x="1141" y="46.55" style="font-size:26.9px">60°N</text>
<text x="1141" y="183.45" style="font-size:26.9px">40°N</text>
<text x="1141" y="320.25" style="font-size:26.9px">20°N</text>
<text x="1141" y="457.15" style="font-size:26.9px">0°</text>
<clipPath id="c2"><rect x="72" y="538.2" width="515" height="407.8"/></clipPath>
<g clip-path="url(#c2)">
<path d="M72.2 800.27 74.71 801.76 77.72 802.01 81.49 801.01 85.26 799.02 86.51 796.03 87.01 793.05 88.02 791.8 89.78 792.55 89.27 796.03 90.03 799.02 91.53 801.26 90.78 805.98 90.78 807.97 92.79 813.94 91.79 815.93 93.29 820.91 94.3 828.87 95.8 833.84 100.83 842.79 103.54 850.75 105.14 856.72 107.86 860.7 111.17 865.38 113.18 870.65 115.19 878.61 117.2 882.59 120.61 885.87 123.63 887.26 126.64 885.27 127.94 881.89 130.66 879.9 133.67 879.3 133.97 875.92 135.98 872.33 139.29 872.33 139.69 870.64 139.29 866.66 138.69 862.68 141.3 859.4 142.71 854.72 142 849.74 140.5 843.77 141 837.8 143.01 835.32 147.03 835.81 148.03 833.32 152.05 831.83 156.06 829.84 156.06 826.85 160.08 823.87 165.1 819.88 172.13 814.91 178.16 808.93 182.18 807.94 186.6 803.96 188.2 800.97 187.8 798.88 189.46 796.79 194.03 795.2 196.14 792.71 196.99 794.75 198.25 796.79 204.07 795.59 210.8 794.3 214.12 791.41 218.73 788.52 221.65 791.8 222.95 797.67 225.06 800.96 228.78 805.13 231.29 807.62 233.8 808.02 235.11 810.11 233.8 812.15 235.51 814.63 238.02 815.08 239.68 820.06 240.53 825.83 239.23 830.01 238.42 833.29 241.74 834.98 246.76 835.38 249.27 833.29 255.19 830 256.8 827.51 259.76 829.1 262.22 834.77 263.23 841.44 265.54 848.7 268.85 856.66 269.56 863.63 268.05 871.59 265.84 879.85 266.24 885.82 268.86 886.51 272.77 891.29 276.09 894.67 281.61 901.43 287.64 910.39 293.66 920.33 298.69 928.29 303.71 935.26 305.72 932.27 303.71 925.31 301.6 918.64 302 911.18 301.2 907.1 296.98 902.92 291.96 899.64 287.84 895.46 281.91 893.77 280.31 889.69 279 885.51 276.89 881.83 274.58 875.57 274.58 867.61 277.59 860.64 281.31 852.68 285.63 853.67 291.65 857.35 295.67 859.94 298.68 864.31 299.99 867.6 303.4 870.28 307.42 870.28 309.43 872.87 311.74 874.26 311.44 880.83 312.75 882.81 318.07 878.24 321.48 877.54 323.49 875.55 324.09 871.27 328.11 871.57 336.85 869.57 341.87 863.6 342.88 855.64 341.57 848.97 340.16 842.41 338.86 838.43 335.54 835.74 333.53 833.06 326.8 828.48 322.08 823.11 321.48 820.52 318.07 817.84 316.06 813.16 314.75 807.89 318.77 800.92 324.8 798.93 330.82 797.93 334.84 795.94 339.56 795.64 342.17 797.23 344.88 797.93 344.88 801.91 346.19 804.59 348.2 805.19 350.21 803.2 348.9 800.61 350.21 798.62 356.23 796.93 361.45 794.94 368.99 792.94 375.01 790.95 382.04 788.96 388.57 787.46 393.84 784.48 399.12 780.99 405.14 776.01 410.16 770.04 412.47 765.36 413.18 762.08 417.19 760.09 420.51 754.81 423.22 751.43 425.93 752.12 426.53 748.84 425.93 746.85 426.53 745.46 429.25 744.86 429.25 738.19 425.23 728.24 421.21 719.59 418.4 711.33 409.96 707.16 410.87 703.87 415.89 699.69 420.91 697.2 421.71 694.71 430.95 693.12 433.01 690.63 428.44 689.34 422.52 687.7 419.2 687.7 414.18 690.64 410.87 691.83 408.35 689.74 407.05 687.26 400.82 683.97 399.11 681.49 400.82 678.6 404.14 678.6 408.35 678.2 411.67 674.02 417.49 671.53 423.42 666.55 428.44 666.95 430.95 669.83 427.14 673.22 425.03 675.71 426.33 678.59 423.82 680.68 428.44 678.99 431.76 676.1 437.58 674.41 443.51 673.61 452.65 676.09 451.04 681.47 448.53 685.65 451.44 687.24 454.35 692.41 455.36 698.38 458.37 708.03 459.68 710.62 465.4 711.31 471.43 709.32 477.15 706.33 481.17 700.36 481.17 696.08 479.76 691.41 475.75 685.44 469.42 679.47 466.41 676.49 465.4 673.5 470.92 672.51 476.45 669.52 481.47 667.03 480.97 662.05 484.48 658.57 488.5 657.57 489.5 655.09 492.52 655.08 496.03 650.61 500.05 650.6 500.05 652.59 505.07 654.58 509.59 653.59 514.61 650.1 519.64 648.11 522.35 645.32 523.65 642.63 528.98 639.35 532.19 636.16 537.21 631.68 540.73 628.2 542.23 624.22 546.25 620.74 549.77 617.75 553.78 615.26 554.79 612.27 556.54 609.29 556.54 605.81 555.54 602.82 555.54 599.34 556.79 595.86 559.81 592.37 561.82 590.38 560.31 586.9 562.07 583.42 555.29 580.43 553.78 578.19 550.77 577.05 544.74 576.71 539.47 580.44 534.95 581.93 536.46 576.36 532.69 577.46 529.68 580.04 529.27 574.47 524.4 575.22 519.53 573.73 519.88 571.49 524.4 569.6 529.68 566.61 535.7 563.28 539.47 561.04 543.23 558.45 547.75 555.46 552.27 553.57 556.04 551.33 559.81 548.34 564.33 546.85 567.34 544.21 571.11 542.72 578.64 542.36 587.93 542.71M71.7 787.08 74.51 787.58 73.2 791.06 71.7 791.56M139.29 881.89 140.7 878.6 141 875.32 145.32 877.31 148.73 882.58 152.75 889.84 153.35 893.82 152.35 898.5 149.04 903.47 144.01 904.47 140 899.5 138.49 891.54 139.29 881.89M338.15 811.16 342.17 808.18 346.89 806.88 353.62 806.88 353.22 809.86 350.91 813.15 349.6 815.84 345.59 818.52 341.57 819.12 338.15 817.13 337.15 813.85 338.15 811.16M427.74 771.53 429.25 776 426.74 786.95 422.72 794.91 419.2 787.95 420.71 778.99 423.72 773.02 427.74 771.53M99.81 639.81 95.29 634.84 97.3 630.36 103.83 626.77 112.87 626.87 120.4 627.76 125.93 627.76 131.45 627.06 135.27 627.26 132.96 628.75 126.93 629.25 120.4 628.76 112.87 628.36 106.34 629.16 101.32 631.85 100.57 634.34 99.81 639.81M314.75 592.46 320.47 587.79 323.38 586.19 327.55 583.26 333.83 579.12 337.14 574.94 340.56 570.81 341.76 567.48 343.47 566.48 346.38 567.68 345.13 570.81 343.47 574.54 342.87 578.27 340.56 581.61 336.34 584.5 331.72 587.38 326.7 588.23 322.98 589.48 320.47 591.17 314.75 592.46M277.8 945.22 276.89 941.04 272.77 939.45 271.07 933.58 269.36 929.5 266.85 927.81 262.73 925.32 262.28 922.83 258.51 918.66 256 916.17 252.69 914.58 248.07 909.61 245.96 905.43 245.55 903.34 248.47 902.94 252.69 905.03 260.22 905.42 263.53 907.91 266.85 912.88 270.26 916.16 275.28 918.65 280.61 922.33 286.63 928.3 292.66 935.26 296.68 945.21M340.57 945.19 340.57 940.22 339.16 935.54 339.86 930.96 343.18 927.98 346.59 929.57 353.93 930.96 356.64 922.3 363.97 921 367.28 919.01 369.99 915.63 375.02 911.35 381.04 906.37 386.06 902.39 390.08 898.71 394.8 894.13 400.12 897.71 400.12 901.69 404.85 903.68 410.47 906.36 404.14 908.35 405.45 911.64 400.83 912.33 400.13 916.31 397.82 919.6 400.13 922.98 402.13 926.26 400.83 928.25 404.14 931.54 408.16 934.92 400.83 936.22 398.12 940.89 397.11 945.17M414.19 945.17 414.19 941.88 414.89 935.91 420.21 935.51 421.52 932.53 429.55 933.92 437.59 935.21 445.32 936.2 451.35 934.21 455.37 935.2 451.35 938.19 445.32 939.18 438.99 939.19 430.96 937.9 420.92 937.9 418.71 945.16M467.12 941.86 465.71 933.9 468.42 927.93 470.43 926.54 471.13 931.91 474.45 930.52 475.15 934.5 471.13 937.18 473.75 938.48 468.42 939.17 467.12 941.86M417.7 831.73 418.45 826.26 417.7 823.27 419.21 817.3 422.22 816.31 424.23 817.3 426.74 818.29 429.25 817.8 431.51 817.05 430.25 820.78 430.25 823.77 432.26 826.25 431.76 828.74 429.75 831.73 431.26 837.7 433.27 843.66 435.78 846.15 442.31 848.64 439.8 850.13 441.3 853.11 444.32 854.61 441.8 855.6 438.29 853.61 435.78 850.63 433.77 852.12 431.26 851.63 427.24 853.62 425.73 857.6 423.73 859.59 421.22 857.1 420.21 852.63 417.2 847.65 414.18 840.69 415.19 835.71 417.7 831.73M427.99 861.38 432.66 862.27 433.27 864.06 437.39 864.31 436.78 867.79 439.7 868.94 439.09 871.27 442.06 870.13 442.61 866.65 443.21 873.01 446.12 873.61 446.12 876.5 442.61 877.09 441.5 875.3 438.54 876.5 437.99 878.79 436.18 880.58 433.27 878.79 431.76 875.9 434.47 874.21 434.47 871.28 432.06 870.13 428.55 870.73 429.15 864.31 427.99 861.38M445.02 857.89 451.45 857.34 453.76 860.27 453.76 863.16 454.36 867.24 449.64 867.24 450.84 870.13 451.45 872.41 447.93 873.01 447.33 870.13 445.57 868.93 445.82 864.31 449.09 863.76 449.64 861.97 446.12 860.82 445.02 857.89M452.6 875.3 457.27 878.78 459.63 882.86 459.63 886.34 461.09 890.42 461.09 893.31 459.38 897.39 454.36 901.37 447.33 899.38 444.32 893.41 442.61 889.83 439.7 889.23 435.58 892.17 434.47 889.83 431.51 889.24 429.75 892.72 429.45 895.66 428.85 891.63 429.75 888.69 433.27 886.35 435.58 884.66 438.54 883.46 441.5 884.66 442.61 886.35 444.42 884.66 447.93 883.46 448.53 881.17 450.84 881.72 453.76 879.98 452.6 875.3M552.78 667.8 553.08 674.46 552.48 677.75 549.77 681.13 548.46 684.42 545.45 686.31 537.71 688.4 530.18 690.99 528.98 695.07 525.46 698.55 524.91 701.44 519.94 700.65 502.56 702.64 490.51 710.61 489.81 713.29 494.53 712.8 497.54 712.3 504.57 710.3 511.6 708.81 517.63 709.3 523.65 715.27 529.68 712.28 536.71 710.29 544.75 709.79 551.37 705.21 558.81 702.32 559.51 692.67 560.06 689.19 558.91 685.71 560.06 684.01 563.02 683.42 563.02 681.67 565.33 679.34 565.94 676.45 566.54 675.16 565.13 671.77 561.82 667.2 562.52 663.22 559.81 663.82 557.8 665.21 554.49 665.21 552.78 667.8M489.81 713.29 492.52 713.09 497.24 714.29 498.55 720.26 495.53 727.22 489.51 729.22 486.49 723.25 485.49 717.28 489.81 713.29M499.55 716.28 504.87 719.26 507.59 716.77 511.3 715.57 514.62 717.27 517.63 716.27 514.62 712.29 507.59 713.29 502.56 714.28 499.55 716.28M552.48 662.52 551.78 657.85 551.07 655.86 553.08 653.87 555.79 652.27 555.09 650.28 561.12 651.58 561.82 648.59 561.52 647.3 564.53 645.9 565.13 641.33 563.12 637.35 565.84 635.35 569.85 638.64 571.86 640.63 577.18 643.91 583.21 645.6 587.93 645.89 587.93 652.56 581.91 651.87 576.58 655.25 575.18 659.23 569.85 657.54 565.13 655.26 560.51 656.25 556.5 655.26 554.49 656.55 556.5 657.85 560.51 659.83 557.8 661.23 553.78 662.82 552.48 662.52M565.33 586.9 564.33 589.88 564.33 593.37 566.34 595.35 566.84 598.84 566.34 602.32 567.09 606.8 566.84 610.78 565.33 613.76 566.84 616.75 567.59 619.23 566.34 621.72 566.84 625.21 564.83 628.19 566.34 632.67 568.35 629.68 570.86 627.44 573.87 628.69 576.38 630.67 576.38 626.69 573.87 625.2 572.87 622.72 570.35 620.73 570.35 616.75 572.36 613.26 572.87 611.27 575.38 609.53 578.89 609.78 582.41 611.27 581.4 607.79 579.9 605.3 577.89 601.32 576.38 596.84 574.87 593.36 573.87 591.37 574.87 587.89 574.12 583.41 572.96 577.84 571.11 575.55 568.44 575.95 570.35 577.84 568.85 580.43 565.83 581.92 564.33 582.67 565.33 586.9M535.2 571.29 537.21 570.79 538.01 572.28 536.2 572.98 535.2 571.29" fill="none" stroke="#000" stroke-width="2" stroke-linejoin="round" stroke-linecap="round"/>
<path d="M250.07 922.74 251.68 924.13M260.72 932.49 262.93 935.47M479.56 752.01 481.98 750.11M468.42 765.14 472.23 761.26M229.68 850.01 230.39 850.31" fill="none" stroke="#000" stroke-width="3.2" stroke-linecap="round"/>
<circle cx="161.78" cy="572.32" r="12.8" fill="#f80000"/>
<circle cx="104.03" cy="652.74" r="12.8" fill="#a0ffff"/>
<circle cx="103.63" cy="654.53" r="12.8" fill="#40d0ec"/>
<circle cx="189.7" cy="649.43" r="12.8" fill="#3a80f0"/>
<circle cx="192.52" cy="646.94" r="12.8" fill="#55ffff"/>
<circle cx="293.35" cy="593.37" r="12.8" fill="#a8ffff"/>
<circle cx="307.46" cy="590.18" r="12.8" fill="#f8a8a8"/>
<circle cx="326.4" cy="619.72" r="12.8" fill="#30dcf0"/>
<circle cx="216.62" cy="742.15" r="12.8" fill="#00008c"/>
<circle cx="452.75" cy="647.14" r="12.8" fill="#f84848"/>
<circle cx="387.46" cy="674.92" r="12.8" fill="#f04848"/>
<circle cx="389.37" cy="671.14" r="12.8" fill="#f85858"/>
<circle cx="469.52" cy="701.96" r="12.8" fill="#90fafa"/>
<circle cx="465.7" cy="695.59" r="12.8" fill="#f81010"/>
<circle cx="464.2" cy="689.12" r="12.8" fill="#ff0000"/>
<circle cx="549.72" cy="701.58" r="12.8" fill="#f86464"/>
<circle cx="541.48" cy="698.45" r="12.8" fill="#08f6fc"/>
<circle cx="525.06" cy="715.77" r="12.8" fill="#fa3232"/>
<circle cx="488.5" cy="727.42" r="12.8" fill="#f8a4a4"/>
<circle cx="490.91" cy="736.18" r="12.8" fill="#fa6262"/>
<circle cx="341.26" cy="710.27" r="12.8" fill="#60ffff"/>
<circle cx="377.12" cy="735.53" r="12.8" fill="#ffffff"/>
<circle cx="423.52" cy="732.03" r="12.8" fill="#f88888"/>
<circle cx="146.82" cy="760.49" r="12.8" fill="#f85050"/>
<circle cx="296.97" cy="772.87" r="12.8" fill="#1a3cf5"/>
<circle cx="317.66" cy="799.83" r="12.8" fill="#00ffff"/>
<circle cx="130.45" cy="824.28" r="12.8" fill="#40ffff"/>
<circle cx="123.93" cy="853.83" r="12.8" fill="#00f0f8"/>
<circle cx="139.6" cy="895.32" r="12.8" fill="#fddcdc"/>
<circle cx="228.08" cy="863.24" r="12.8" fill="#ffffff"/>
<circle cx="270.36" cy="814.97" r="12.8" fill="#20e0f0"/>
<circle cx="273.68" cy="868.9" r="12.8" fill="#66ffff"/>
<circle cx="281.71" cy="849" r="12.8" fill="#20ffff"/>
<circle cx="336.45" cy="861.11" r="12.8" fill="#3a80f0"/>
<circle cx="281.11" cy="906.61" r="12.8" fill="#1ee6f6"/>
<circle cx="287.84" cy="923.42" r="12.8" fill="#22e2f4"/>
<circle cx="302.8" cy="931.97" r="12.8" fill="#34d6f0"/>
<circle cx="375.01" cy="790.85" r="12.8" fill="#70ffff"/>
<circle cx="404.24" cy="777.31" r="12.8" fill="#90fafa"/>
<circle cx="417.09" cy="786.76" r="12.8" fill="#b8ffff"/>
<circle cx="423.52" cy="773.82" r="12.8" fill="#b0ffff"/>
<circle cx="422.42" cy="843.37" r="12.8" fill="#10ffff"/>
<circle cx="406.75" cy="875.32" r="12.8" fill="#30ffff"/>
<circle cx="380.64" cy="908.06" r="12.8" fill="#38d0ec"/>
<circle cx="450.64" cy="900.67" r="12.8" fill="#38d8f0"/>
<circle cx="451.1" cy="932.12" r="12.8" fill="#48c8ec"/>
</g>
<rect x="72" y="538.2" width="515" height="407.8" fill="none" stroke="#000" stroke-width="2"/>
<path d="M140.41 538.2v6M140.43 946v-6M209.14 538.2v6M209.15 946v-6M277.86 538.2v6M277.87 946v-6M346.58 538.2v6M346.59 946v-6M415.3 538.2v6M415.32 946v-6M484.03 538.2v6M484.04 946v-6M552.75 538.2v6M552.76 946v-6M72 874.35h6M587 874.15h-6M72 807.08h6M587 806.89h-6M72 739.82h6M587 739.63h-6M72 672.56h6M587 672.36h-6M72 605.29h6M587 605.1h-6" stroke="#000" stroke-width="2" fill="none"/>
<text x="237.5" y="517.5">Hop-r1 model</text>
<text x="59.5" y="542.65" text-anchor="end" style="font-size:26.9px">60°N</text>
<text x="59.5" y="677.25" text-anchor="end" style="font-size:26.9px">40°N</text>
<text x="59.5" y="811.85" text-anchor="end" style="font-size:26.9px">20°N</text>
<text x="59.5" y="946.45" text-anchor="end" style="font-size:26.9px">0°</text>
<clipPath id="c3"><rect x="621.5" y="538.2" width="510.5" height="407.8"/></clipPath>
<g clip-path="url(#c3)">
<path d="M621.69 800.38 624.18 801.87 627.17 802.12 630.9 801.12 634.63 799.13 635.87 796.15 636.37 793.17 637.36 791.92 639.11 792.67 638.61 796.15 639.36 799.13 640.85 801.37 640.11 806.09 640.11 808.08 642.11 814.04 641.11 816.03 642.61 821 643.61 828.96 645.1 833.93 650.09 842.87 652.78 850.83 654.37 856.79 657.06 860.77 660.35 865.44 662.34 870.71 664.34 878.66 666.33 882.64 669.72 885.92 672.71 887.31 675.69 885.32 676.98 881.94 679.67 879.95 682.65 879.35 682.95 875.97 684.94 872.39 688.22 872.39 688.62 870.7 688.22 866.72 687.62 862.74 690.21 859.46 691.6 854.79 690.9 849.82 689.4 843.85 689.9 837.89 691.88 835.4 695.87 835.89 696.86 833.41 700.84 831.92 704.82 829.93 704.82 826.94 708.8 823.96 713.77 819.98 720.74 815 726.7 809.04 730.69 808.04 735.06 804.06 736.65 801.08 736.25 798.99 737.9 796.9 742.42 795.31 744.51 792.82 745.36 794.86 746.6 796.9 752.38 795.7 759.04 794.4 762.33 791.52 766.9 788.63 769.79 791.91 771.09 797.78 773.18 801.06 776.87 805.23 779.36 807.72 781.85 808.12 783.14 810.2 781.85 812.24 783.54 814.73 786.03 815.17 787.68 820.14 788.52 825.91 787.23 830.09 786.44 833.37 789.72 835.06 794.7 835.45 797.19 833.37 803.06 830.08 804.65 827.59 807.59 829.18 810.03 834.85 811.03 841.51 813.32 848.77 816.61 856.72 817.31 863.68 815.82 871.64 813.64 879.89 814.04 885.86 816.63 886.55 820.51 891.32 823.8 894.7 829.28 901.46 835.26 910.41 841.23 920.35 846.22 928.3 851.2 935.26 853.19 932.28 851.19 925.32 849.1 918.65 849.49 911.2 848.69 907.12 844.51 902.95 839.53 899.67 835.45 895.49 829.57 893.81 827.98 889.73 826.68 885.55 824.59 881.88 822.3 875.61 822.29 867.66 825.27 860.7 828.95 852.74 833.23 853.73 839.21 857.41 843.19 859.99 846.18 864.37 847.47 867.65 850.86 870.33 854.84 870.33 856.83 872.91 859.12 874.3 858.83 880.87 860.12 882.85 865.4 878.28 868.78 877.58 870.77 875.59 871.36 871.32 875.34 871.61 884 869.62 888.98 863.65 889.97 855.7 888.67 849.04 887.27 842.47 885.97 838.5 882.69 835.81 880.7 833.13 874.02 828.56 869.34 823.19 868.74 820.61 865.36 817.92 863.37 813.25 862.07 807.98 866.05 801.02 872.02 799.03 877.99 798.03 881.97 796.04 886.65 795.74 889.23 797.33 891.92 798.03 891.92 802 893.22 804.69 895.21 805.28 897.2 803.29 895.91 800.71 897.2 798.72 903.17 797.03 908.34 795.04 915.81 793.04 921.78 791.05 928.74 789.06 935.21 787.57 940.44 784.58 945.66 781.1 951.63 776.13 956.6 770.16 958.89 765.48 959.58 762.2 963.56 760.21 966.84 754.94 969.53 751.56 972.22 752.25 972.81 748.97 972.21 746.98 972.81 745.59 975.5 744.99 975.49 738.33 971.51 728.39 967.52 719.74 964.73 711.49 956.36 707.32 957.26 704.03 962.23 699.86 967.21 697.37 968 694.88 977.16 693.29 979.2 690.8 974.67 689.51 968.79 687.87 965.51 687.87 960.54 690.81 957.25 692 954.76 689.92 953.47 687.43 947.29 684.15 945.6 681.67 947.29 678.78 950.57 678.78 954.75 678.38 958.04 674.21 963.81 671.72 969.68 666.74 974.65 667.14 977.14 670.02 973.36 673.4 971.28 675.89 972.57 678.77 970.08 680.86 974.66 679.17 977.94 676.28 983.72 674.59 989.59 673.79 998.65 676.28 997.06 681.65 994.57 685.82 997.46 687.41 1000.35 692.58 1001.35 698.55 1004.34 708.19 1005.64 710.78 1011.31 711.47 1017.28 709.48 1022.95 706.49 1026.93 700.52 1026.93 696.25 1025.53 691.58 1021.55 685.61 1015.27 679.65 1012.28 676.67 1011.29 673.68 1016.76 672.69 1022.23 669.7 1027.21 667.21 1026.71 662.24 1030.19 658.76 1034.17 657.77 1035.16 655.28 1038.15 655.28 1041.63 650.8 1045.61 650.8 1045.61 652.79 1050.59 654.78 1055.07 653.78 1060.04 650.3 1065.02 648.31 1067.7 645.52 1069 642.84 1074.27 639.55 1077.45 636.37 1082.43 631.89 1085.91 628.41 1087.4 624.43 1091.38 620.95 1094.86 617.97 1098.84 615.48 1099.83 612.5 1101.57 609.51 1101.57 606.03 1100.57 603.05 1100.57 599.57 1101.81 596.09 1104.8 592.61 1106.79 590.62 1105.29 587.14 1107.03 583.66 1100.31 580.68 1098.82 578.44 1095.83 577.3 1089.86 576.95 1084.64 580.68 1080.16 582.18 1081.65 576.61 1077.92 577.7 1074.93 580.29 1074.53 574.72 1069.7 575.47 1064.87 573.98 1065.22 571.74 1069.7 569.85 1074.92 566.87 1080.89 563.53 1084.62 561.3 1088.35 558.71 1092.83 555.72 1097.31 553.83 1101.04 551.59 1104.77 548.61 1109.25 547.12 1112.23 544.48 1115.97 542.99 1123.43 542.64 1132.64 542.98M621.19 787.21 623.97 787.7 622.68 791.18 621.19 791.68M688.23 881.93 689.62 878.65 689.92 875.37 694.2 877.36 697.59 882.63 701.57 889.88 702.17 893.86 701.18 898.53 697.9 903.51 692.92 904.5 688.94 899.53 687.44 891.58 688.23 881.93M885.26 811.25 889.24 808.27 893.92 806.97 900.59 806.97 900.19 809.95 897.9 813.24 896.61 815.92 892.63 818.61 888.65 819.21 885.26 817.22 884.27 813.94 885.26 811.25M974.02 771.64 975.52 776.11 973.03 787.05 969.06 795.01 965.57 788.05 967.06 779.1 970.04 773.13 974.02 771.64M648.97 640.04 644.49 635.07 646.47 630.59 652.94 627.01 661.9 627.1 669.37 628 674.84 627.99 680.31 627.29 684.1 627.49 681.81 628.98 675.84 629.48 669.37 628.99 661.9 628.59 655.43 629.39 650.46 632.08 649.71 634.57 648.97 640.04M861.94 592.71 867.61 588.04 870.5 586.45 874.62 583.51 880.84 579.38 884.12 575.2 887.51 571.08 888.7 567.74 890.39 566.75 893.28 567.94 892.03 571.07 890.39 574.8 889.8 578.53 887.51 581.86 883.33 584.75 878.76 587.63 873.78 588.48 870.1 589.73 867.61 591.42 861.94 592.71M825.52 945.21 824.62 941.04 820.54 939.45 818.85 933.58 817.15 929.51 814.66 927.82 810.58 925.33 810.13 922.85 806.4 918.67 803.91 916.19 800.62 914.6 796.04 909.63 793.95 905.45 793.55 903.37 796.43 902.97 800.62 905.05 808.08 905.45 811.37 907.93 814.65 912.9 818.04 916.18 823.02 918.67 828.3 922.34 834.27 928.31 840.25 935.26 844.23 945.21M887.73 945.19 887.73 940.21 886.33 935.54 887.03 930.97 890.31 927.98 893.69 929.57 900.96 930.96 903.64 922.31 910.91 921.01 914.19 919.02 916.88 915.64 921.85 911.36 927.82 906.39 932.79 902.41 936.77 898.73 941.45 894.15 946.72 897.73 946.73 901.71 951.41 903.7 956.98 906.38 950.71 908.37 952.01 911.65 947.43 912.35 946.74 916.33 944.45 919.61 946.74 922.99 948.73 926.27 947.44 928.26 950.73 931.54 954.71 934.92 947.44 936.21 944.76 940.89 943.77 945.16M960.69 945.15 960.69 941.87 961.38 935.91 966.65 935.51 967.95 932.52 975.91 933.91 983.87 935.2 991.54 936.19 997.51 934.2 1001.49 935.19 997.51 938.18 991.54 939.18 985.27 939.18 977.31 937.89 967.35 937.89 965.17 945.15M1013.14 941.85 1011.74 933.9 1014.42 927.93 1016.41 926.54 1017.11 931.91 1020.4 930.51 1021.1 934.49 1017.12 937.18 1019.71 938.47 1014.43 939.17 1013.14 941.85M964.1 831.8 964.85 826.33 964.1 823.35 965.59 817.38 968.57 816.39 970.56 817.38 973.05 818.37 975.54 817.88 977.78 817.13 976.54 820.86 976.54 823.84 978.53 826.33 978.04 828.81 976.05 831.8 977.54 837.76 979.54 843.73 982.03 846.21 988.5 848.69 986.01 850.19 987.51 853.17 990.49 854.66 988.01 855.65 984.52 853.67 982.03 850.69 980.04 852.18 977.55 851.68 973.57 853.67 972.08 857.65 970.09 859.64 967.6 857.15 966.6 852.68 963.62 847.71 960.63 840.75 961.62 835.78 964.1 831.8M974.32 861.43 978.95 862.32 979.55 864.11 983.63 864.36 983.04 867.84 985.92 868.98 985.33 871.32 988.26 870.17 988.81 866.69 989.41 873.05 992.3 873.65 992.3 876.53 988.81 877.13 987.72 875.34 984.78 876.54 984.24 878.82 982.45 880.61 979.56 878.83 978.06 875.94 980.75 874.25 980.75 871.32 978.36 870.18 974.88 870.77 975.47 864.36 974.32 861.43M991.19 857.94 997.56 857.39 999.85 860.32 999.85 863.21 1000.45 867.28 995.78 867.28 996.97 870.17 997.57 872.45 994.09 873.05 993.49 870.17 991.75 868.98 991.99 864.35 995.23 863.8 995.77 862.01 992.29 860.87 991.19 857.94M998.72 875.34 1003.35 878.82 1005.69 882.89 1005.69 886.37 1007.14 890.45 1007.14 893.33 1005.45 897.41 1000.47 901.39 993.51 899.4 990.52 893.44 988.82 889.86 985.94 889.26 981.86 892.2 980.76 889.86 977.82 889.27 976.08 892.75 975.79 895.68 975.19 891.65 976.08 888.72 979.56 886.38 981.85 884.69 984.79 883.5 987.72 884.69 988.82 886.38 990.61 884.69 994.09 883.49 994.69 881.21 996.98 881.75 999.86 880.01 998.72 875.34M1097.88 667.98 1098.18 674.64 1097.58 677.92 1094.9 681.3 1093.61 684.59 1090.62 686.48 1082.96 688.57 1075.5 691.16 1074.3 695.23 1070.82 698.72 1070.28 701.6 1065.35 700.81 1048.13 702.8 1036.19 710.76 1035.5 713.45 1040.17 712.95 1043.16 712.45 1050.13 710.46 1057.09 708.96 1063.06 709.46 1069.04 715.42 1075.01 712.44 1081.98 710.44 1089.94 709.94 1096.5 705.37 1103.87 702.48 1104.56 692.83 1105.1 689.35 1103.96 685.87 1105.1 684.18 1108.04 683.59 1108.04 681.85 1110.32 679.51 1110.92 676.62 1111.52 675.33 1110.12 671.95 1106.83 667.38 1107.53 663.4 1104.84 664 1102.85 665.39 1099.57 665.39 1097.88 667.98M1035.5 713.45 1038.18 713.25 1042.86 714.44 1044.16 720.4 1041.18 727.37 1035.21 729.36 1032.22 723.39 1031.22 717.43 1035.5 713.45M1045.15 716.43 1050.43 719.41 1053.12 716.92 1056.8 715.72 1060.08 717.41 1063.07 716.42 1060.08 712.44 1053.11 713.44 1048.14 714.44 1045.15 716.43M1097.57 662.71 1096.87 658.04 1096.18 656.05 1098.17 654.06 1100.85 652.47 1100.15 650.48 1106.13 651.77 1106.82 648.79 1106.52 647.49 1109.51 646.1 1110.1 641.53 1108.11 637.55 1110.8 635.56 1114.78 638.84 1116.77 640.83 1122.05 644.11 1128.02 645.79 1132.7 646.09 1132.7 652.75 1126.73 652.06 1121.46 655.44 1120.07 659.42 1114.79 657.73 1110.11 655.45 1105.53 656.44 1101.55 655.45 1099.56 656.74 1101.55 658.04 1105.54 660.02 1102.85 661.42 1098.87 663.01 1097.57 662.71M1110.27 587.14 1109.28 590.12 1109.28 593.6 1111.27 595.59 1111.77 599.07 1111.27 602.55 1112.02 607.02 1111.78 611 1110.29 613.98 1111.78 616.97 1112.53 619.45 1111.29 621.94 1111.78 625.42 1109.8 628.4 1111.29 632.87 1113.28 629.89 1115.77 627.65 1118.75 628.89 1121.24 630.88 1121.24 626.9 1118.75 625.41 1117.76 622.93 1115.27 620.94 1115.26 616.96 1117.25 613.48 1117.75 611.49 1120.24 609.75 1123.72 610 1127.2 611.49 1126.21 608.01 1124.71 605.53 1122.72 601.55 1121.22 597.08 1119.73 593.6 1118.73 591.61 1119.73 588.13 1118.98 583.65 1117.83 578.09 1115.99 575.8 1113.35 576.2 1115.24 578.09 1113.75 580.67 1110.76 582.16 1109.27 582.91 1110.27 587.14M1080.4 571.54 1082.39 571.04 1083.19 572.53 1081.4 573.23 1080.4 571.54" fill="none" stroke="#000" stroke-width="2" stroke-linejoin="round" stroke-linecap="round"/>
<path d="M798.04 922.75 799.63 924.15M808.59 932.49 810.79 935.48M1025.37 752.13 1027.76 750.24M1014.33 765.26 1018.11 761.38M777.79 850.08 778.49 850.38" fill="none" stroke="#000" stroke-width="3.2" stroke-linecap="round"/>
<circle cx="710.34" cy="572.59" r="12.8" fill="#f87878"/>
<circle cx="653.16" cy="652.96" r="12.8" fill="#f8a0a0"/>
<circle cx="652.76" cy="654.75" r="12.8" fill="#f86060"/>
<circle cx="738.06" cy="649.64" r="12.8" fill="#f87070"/>
<circle cx="740.84" cy="647.15" r="12.8" fill="#fcc8c8"/>
<circle cx="840.74" cy="593.62" r="12.8" fill="#f89898"/>
<circle cx="854.72" cy="590.43" r="12.8" fill="#f88888"/>
<circle cx="873.5" cy="619.95" r="12.8" fill="#f86060"/>
<circle cx="764.79" cy="742.3" r="12.8" fill="#f8a8a8"/>
<circle cx="998.73" cy="647.34" r="12.8" fill="#f88080"/>
<circle cx="934.05" cy="675.11" r="12.8" fill="#fcd8d8"/>
<circle cx="935.94" cy="671.33" r="12.8" fill="#fde8e8"/>
<circle cx="1015.38" cy="702.12" r="12.8" fill="#f86060"/>
<circle cx="1011.6" cy="695.76" r="12.8" fill="#f88080"/>
<circle cx="1010.1" cy="689.3" r="12.8" fill="#f88888"/>
<circle cx="1094.86" cy="701.74" r="12.8" fill="#fde8e8"/>
<circle cx="1086.7" cy="698.61" r="12.8" fill="#f82020"/>
<circle cx="1070.43" cy="715.92" r="12.8" fill="#f8b0b0"/>
<circle cx="1034.21" cy="727.57" r="12.8" fill="#fcc8c8"/>
<circle cx="1036.61" cy="736.32" r="12.8" fill="#fcc8c8"/>
<circle cx="888.29" cy="710.43" r="12.8" fill="#90ffff"/>
<circle cx="923.83" cy="735.67" r="12.8" fill="#20ffff"/>
<circle cx="969.82" cy="732.17" r="12.8" fill="#b0ffff"/>
<circle cx="695.62" cy="760.63" r="12.8" fill="#f86060"/>
<circle cx="844.43" cy="772.99" r="12.8" fill="#f88080"/>
<circle cx="864.95" cy="799.93" r="12.8" fill="#30d8f0"/>
<circle cx="679.44" cy="824.37" r="12.8" fill="#88ffff"/>
<circle cx="672.98" cy="853.9" r="12.8" fill="#fcdcdc"/>
<circle cx="688.54" cy="895.36" r="12.8" fill="#50ffff"/>
<circle cx="776.21" cy="863.3" r="12.8" fill="#6affff"/>
<circle cx="818.08" cy="815.06" r="12.8" fill="#10f0f8"/>
<circle cx="821.4" cy="868.95" r="12.8" fill="#00f8f8"/>
<circle cx="829.35" cy="849.06" r="12.8" fill="#18f0f8"/>
<circle cx="883.6" cy="861.17" r="12.8" fill="#f88080"/>
<circle cx="828.78" cy="906.63" r="12.8" fill="#48c4ec"/>
<circle cx="835.46" cy="923.43" r="12.8" fill="#48c0e8"/>
<circle cx="850.3" cy="931.98" r="12.8" fill="#48c4ec"/>
<circle cx="921.78" cy="790.95" r="12.8" fill="#10eef8"/>
<circle cx="950.73" cy="777.42" r="12.8" fill="#08f4f8"/>
<circle cx="963.48" cy="786.86" r="12.8" fill="#50ffff"/>
<circle cx="969.84" cy="773.93" r="12.8" fill="#80ffff"/>
<circle cx="968.79" cy="843.43" r="12.8" fill="#18eef8"/>
<circle cx="953.28" cy="875.36" r="12.8" fill="#10f0f8"/>
<circle cx="927.42" cy="908.08" r="12.8" fill="#50b8e8"/>
<circle cx="996.79" cy="900.69" r="12.8" fill="#48c4ec"/>
<circle cx="997.26" cy="932.11" r="12.8" fill="#48a0f0"/>
</g>
<rect x="621.5" y="538.2" width="510.5" height="407.8" fill="none" stroke="#000" stroke-width="2"/>
<path d="M689.14 538.2v6M689.39 946v-6M757.25 538.2v6M757.49 946v-6M825.35 538.2v6M825.6 946v-6M893.46 538.2v6M893.7 946v-6M961.56 538.2v6M961.81 946v-6M1029.67 538.2v6M1029.91 946v-6M1097.77 538.2v6M1098.02 946v-6M621.5 874.41h6M1132 874.19h-6M621.5 807.19h6M1132 806.97h-6M621.5 739.98h6M1132 739.75h-6M621.5 672.76h6M1132 672.54h-6M621.5 605.54h6M1132 605.32h-6" stroke="#000" stroke-width="2" fill="none"/>
<text x="798.3" y="517.5">Saas-r1 model</text>
<text x="1141" y="540.75" style="font-size:26.9px">60°N</text>
<text x="1141" y="677.45" style="font-size:26.9px">40°N</text>
<text x="1141" y="814.05" style="font-size:26.9px">20°N</text>
<text x="1141" y="950.75" style="font-size:26.9px">0°</text>
<clipPath id="c4"><rect x="75.8" y="1029.2" width="507" height="409.1"/></clipPath>
<g clip-path="url(#c4)">
<path d="M76.37 1292.49 78.84 1293.99 81.8 1294.24 85.5 1293.24 89.2 1291.24 90.43 1288.24 90.93 1285.24 91.91 1283.99 93.64 1284.74 93.15 1288.24 93.89 1291.24 95.37 1293.49 94.64 1298.25 94.64 1300.25 96.62 1306.25 95.63 1308.25 97.12 1313.25 98.11 1321.26 99.59 1326.26 104.54 1335.27 107.21 1343.27 108.79 1349.28 111.46 1353.28 114.72 1357.98 116.7 1363.28 118.68 1371.29 120.66 1375.29 124.02 1378.59 126.98 1379.99 129.94 1377.99 131.22 1374.59 133.88 1372.59 136.84 1371.99 137.14 1368.59 139.11 1364.99 142.37 1364.99 142.76 1363.29 142.36 1359.28 141.77 1355.28 144.33 1351.98 145.71 1347.28 145.01 1342.27 143.53 1336.27 144.02 1330.27 145.99 1327.77 149.94 1328.27 150.92 1325.76 154.87 1324.26 158.82 1322.26 158.82 1319.26 162.76 1316.26 167.69 1312.26 174.6 1307.26 180.52 1301.25 184.47 1300.25 188.81 1296.25 190.38 1293.25 189.99 1291.15 191.61 1289.05 196.1 1287.45 198.18 1284.94 199.02 1287 200.25 1289.05 205.98 1287.85 212.59 1286.55 215.84 1283.65 220.38 1280.74 223.25 1284.05 224.54 1289.95 226.61 1293.25 230.27 1297.45 232.74 1299.96 235.2 1300.36 236.49 1302.46 235.21 1304.51 236.89 1307.01 239.36 1307.46 240.99 1312.46 241.83 1318.27 240.55 1322.47 239.76 1325.77 243.02 1327.47 247.96 1327.87 250.43 1325.77 256.25 1322.47 257.82 1319.97 260.74 1321.57 263.16 1327.27 264.15 1333.98 266.43 1341.28 269.69 1349.29 270.39 1356.29 268.91 1364.29 266.75 1372.6 267.15 1378.6 269.72 1379.3 273.57 1384.11 276.83 1387.51 282.26 1394.31 288.19 1403.32 294.12 1413.32 299.07 1421.33 304.01 1428.33 305.98 1425.33 304 1418.33 301.92 1411.62 302.31 1404.12 301.52 1400.02 297.37 1395.81 292.43 1392.51 288.38 1388.31 282.55 1386.61 280.97 1382.5 279.69 1378.3 277.61 1374.6 275.33 1368.3 275.33 1360.29 278.28 1353.29 281.93 1345.28 286.18 1346.28 292.1 1349.99 296.05 1352.59 299.02 1356.99 300.3 1360.29 303.66 1363 307.61 1363 309.59 1365.6 311.86 1367 311.57 1373.6 312.85 1375.6 318.08 1371 321.43 1370.3 323.41 1368.3 324 1364 327.94 1364.3 336.53 1362.3 341.46 1356.29 342.44 1348.29 341.15 1341.59 339.77 1334.98 338.48 1330.98 335.22 1328.28 333.24 1325.58 326.63 1320.97 321.98 1315.57 321.39 1312.97 318.03 1310.27 316.05 1305.56 314.77 1300.26 318.71 1293.26 324.63 1291.26 330.55 1290.26 334.5 1288.26 339.14 1287.96 341.71 1289.56 344.37 1290.26 344.38 1294.26 345.66 1296.96 347.64 1297.56 349.61 1295.56 348.32 1292.96 349.6 1290.96 355.53 1289.26 360.66 1287.26 368.06 1285.26 373.98 1283.26 380.89 1281.25 387.3 1279.75 392.48 1276.75 397.66 1273.25 403.58 1268.25 408.51 1262.25 410.78 1257.54 411.47 1254.24 415.42 1252.24 418.67 1246.94 421.33 1243.54 424 1244.24 424.59 1240.93 423.99 1238.93 424.58 1237.53 427.25 1236.93 427.24 1230.23 423.29 1220.22 419.33 1211.52 416.56 1203.21 408.27 1199.01 409.15 1195.71 414.08 1191.51 419.02 1189.01 419.81 1186.5 428.89 1184.9 430.91 1182.4 426.42 1181.1 420.59 1179.45 417.33 1179.45 412.4 1182.4 409.14 1183.6 406.67 1181.5 405.39 1179 399.27 1175.7 397.59 1173.2 399.26 1170.29 402.52 1170.29 406.66 1169.89 409.92 1165.69 415.64 1163.19 421.46 1158.19 426.4 1158.59 428.87 1161.49 425.12 1164.89 423.05 1167.39 424.33 1170.3 421.87 1172.4 426.41 1170.7 429.66 1167.79 435.39 1166.09 441.21 1165.29 450.19 1167.8 448.62 1173.2 446.16 1177.4 449.02 1179 451.89 1184.2 452.88 1190.21 455.85 1199.91 457.13 1202.52 462.76 1203.22 468.68 1201.22 474.3 1198.21 478.25 1192.21 478.24 1187.91 476.86 1183.21 472.91 1177.2 466.68 1171.2 463.72 1168.2 462.73 1165.19 468.16 1164.19 473.58 1161.19 478.52 1158.69 478.02 1153.69 481.47 1150.19 485.42 1149.19 486.41 1146.69 489.37 1146.69 492.82 1142.18 496.77 1142.18 496.77 1144.19 501.71 1146.19 506.15 1145.19 511.08 1141.68 516.01 1139.68 518.68 1136.88 519.96 1134.18 525.19 1130.88 528.34 1127.68 533.28 1123.18 536.73 1119.67 538.21 1115.67 542.15 1112.17 545.6 1109.17 549.55 1106.67 550.54 1103.67 552.26 1100.66 552.26 1097.16 551.27 1094.16 551.27 1090.66 552.5 1087.16 555.46 1083.66 557.43 1081.65 555.94 1078.15 557.67 1074.65 551 1071.65 549.52 1069.4 546.56 1068.25 540.64 1067.9 535.46 1071.65 531.02 1073.15 532.49 1067.54 528.79 1068.64 525.83 1071.25 525.43 1065.64 520.65 1066.39 515.86 1064.89 516.2 1062.64 520.64 1060.74 525.82 1057.74 531.74 1054.39 535.44 1052.14 539.14 1049.53 543.58 1046.53 548.02 1044.63 551.72 1042.38 555.42 1039.38 559.86 1037.88 562.82 1035.23 566.52 1033.73 573.92 1033.38 583.06 1033.73M75.87 1279.23 78.63 1279.73 77.35 1283.24 75.87 1283.74M142.37 1374.59 143.75 1371.29 144.05 1367.99 148.29 1369.99 151.65 1375.29 155.61 1382.6 156.2 1386.6 155.22 1391.3 151.97 1396.3 147.03 1397.3 143.08 1392.3 141.59 1384.3 142.37 1374.59M337.77 1303.56 341.71 1300.56 346.35 1299.26 352.97 1299.26 352.57 1302.26 350.31 1305.57 349.03 1308.27 345.08 1310.97 341.13 1311.57 337.77 1309.57 336.78 1306.27 337.77 1303.56M425.79 1263.75 427.27 1268.25 424.81 1279.26 420.87 1287.26 417.41 1280.26 418.88 1271.25 421.84 1265.25 425.79 1263.75M103.39 1131.15 98.95 1126.15 100.92 1121.65 107.33 1118.05 116.21 1118.15 123.62 1119.05 129.05 1119.05 134.48 1118.35 138.23 1118.55 135.96 1120.05 130.04 1120.55 123.62 1120.05 116.22 1119.65 109.8 1120.45 104.87 1123.15 104.13 1125.65 103.39 1131.15M314.6 1083.64 320.22 1078.94 323.08 1077.34 327.18 1074.39 333.34 1070.23 336.6 1066.03 339.95 1061.88 341.13 1058.53 342.81 1057.53 345.67 1058.73 344.44 1061.88 342.82 1065.63 342.23 1069.38 339.96 1072.74 335.81 1075.64 331.28 1078.54 326.34 1079.39 322.69 1080.64 320.22 1082.34 314.6 1083.64M278.55 1438.34 277.66 1434.13 273.61 1432.53 271.92 1426.63 270.24 1422.53 267.77 1420.83 263.73 1418.32 263.28 1415.82 259.57 1411.62 257.1 1409.12 253.85 1407.52 249.3 1402.51 247.22 1398.31 246.83 1396.21 249.69 1395.81 253.84 1397.91 261.24 1398.31 264.5 1400.81 267.76 1405.82 271.12 1409.12 276.06 1411.62 281.29 1415.32 287.22 1421.33 293.15 1428.33 297.11 1438.34M340.24 1438.34 340.24 1433.34 338.85 1428.63 339.54 1424.03 342.8 1421.03 346.15 1422.63 353.36 1424.03 356.02 1415.33 363.22 1414.03 366.48 1412.03 369.14 1408.62 374.07 1404.32 379.99 1399.32 384.93 1395.32 388.87 1391.62 393.51 1387.01 398.74 1390.62 398.74 1394.62 403.39 1396.62 408.92 1399.32 402.7 1401.32 403.98 1404.62 399.44 1405.33 398.76 1409.33 396.49 1412.63 398.76 1416.03 400.74 1419.33 399.46 1421.33 402.72 1424.64 406.67 1428.04 399.46 1429.34 396.8 1434.04 395.82 1438.34M412.6 1438.34 412.6 1435.04 413.28 1429.04 418.51 1428.64 419.79 1425.64 427.69 1427.04 435.59 1428.34 443.19 1429.34 449.11 1427.34 453.06 1428.34 449.12 1431.34 443.19 1432.34 436.98 1432.34 429.08 1431.04 419.21 1431.04 417.04 1438.34M464.62 1435.05 463.23 1427.04 465.89 1421.04 467.86 1419.64 468.56 1425.04 471.81 1423.64 472.51 1427.64 468.56 1430.34 471.13 1431.64 465.9 1432.34 464.62 1435.05M415.96 1324.28 416.7 1318.78 415.96 1315.78 417.43 1309.77 420.39 1308.77 422.37 1309.77 424.84 1310.77 427.31 1310.27 429.53 1309.52 428.29 1313.28 428.3 1316.28 430.27 1318.78 429.78 1321.28 427.81 1324.28 429.3 1330.29 431.27 1336.29 433.74 1338.79 440.16 1341.29 437.7 1342.79 439.18 1345.79 442.14 1347.3 439.67 1348.3 436.22 1346.29 433.75 1343.29 431.77 1344.79 429.31 1344.29 425.36 1346.29 423.88 1350.3 421.91 1352.3 419.44 1349.8 418.45 1345.29 415.48 1340.29 412.52 1333.29 413.5 1328.28 415.96 1324.28M426.11 1354.1 430.7 1355 431.29 1356.8 435.34 1357.05 434.75 1360.55 437.61 1361.7 437.02 1364.05 439.93 1362.9 440.47 1359.4 441.07 1365.81 443.93 1366.41 443.93 1369.31 440.48 1369.91 439.39 1368.11 436.48 1369.31 435.94 1371.61 434.17 1373.41 431.3 1371.61 429.82 1368.71 432.48 1367.01 432.48 1364.05 430.11 1362.9 426.66 1363.5 427.24 1357.05 426.11 1354.1M442.83 1350.6 449.15 1350.05 451.42 1353 451.43 1355.9 452.02 1360 447.38 1360 448.57 1362.9 449.16 1365.21 445.71 1365.81 445.11 1362.9 443.39 1361.7 443.63 1357.05 446.84 1356.5 447.38 1354.7 443.92 1353.55 442.83 1350.6M450.3 1368.11 454.89 1371.61 457.22 1375.71 457.22 1379.21 458.65 1383.32 458.66 1386.22 456.98 1390.32 452.05 1394.32 445.14 1392.32 442.17 1386.32 440.49 1382.72 437.63 1382.11 433.58 1385.07 432.49 1382.71 429.58 1382.11 427.86 1385.62 427.56 1388.57 426.97 1384.52 427.85 1381.56 431.31 1379.21 433.58 1377.51 436.49 1376.31 439.4 1377.51 440.49 1379.21 442.26 1377.51 445.72 1376.31 446.31 1374.01 448.58 1374.56 451.44 1372.81 450.3 1368.11M548.6 1159.5 548.91 1166.2 548.32 1169.5 545.65 1172.9 544.37 1176.21 541.41 1178.11 533.81 1180.21 526.41 1182.81 525.23 1186.91 521.78 1190.41 521.24 1193.31 516.35 1192.51 499.28 1194.51 487.44 1202.52 486.75 1205.22 491.39 1204.72 494.35 1204.22 501.26 1202.22 508.16 1200.72 514.09 1201.22 520.01 1207.22 525.94 1204.22 532.84 1202.22 540.74 1201.72 547.25 1197.12 554.55 1194.22 555.24 1184.51 555.78 1181.01 554.64 1177.51 555.77 1175.81 558.68 1175.21 558.68 1173.46 560.95 1171.1 561.54 1168.2 562.13 1166.9 560.75 1163.5 557.49 1158.9 558.18 1154.9 555.51 1155.5 553.54 1156.9 550.28 1156.9 548.6 1159.5M486.75 1205.22 489.41 1205.02 494.05 1206.22 495.34 1212.22 492.38 1219.23 486.46 1221.23 483.5 1215.22 482.51 1209.22 486.75 1205.22M496.32 1208.22 501.56 1211.22 504.22 1208.72 507.87 1207.52 511.13 1209.22 514.09 1208.22 511.13 1204.22 504.22 1205.22 499.28 1206.22 496.32 1208.22M548.3 1154.19 547.61 1149.49 546.92 1147.49 548.89 1145.49 551.55 1143.89 550.86 1141.89 556.78 1143.19 557.47 1140.19 557.18 1138.89 560.14 1137.49 560.73 1132.88 558.75 1128.88 561.41 1126.88 565.36 1130.18 567.34 1132.18 572.57 1135.49 578.5 1137.19 583.14 1137.49 583.14 1144.19 577.22 1143.49 571.99 1146.89 570.61 1150.89 565.38 1149.19 560.74 1146.89 556.2 1147.89 552.25 1146.89 550.27 1148.19 552.25 1149.49 556.2 1151.49 553.53 1152.89 549.59 1154.49 548.3 1154.19M560.88 1078.15 559.9 1081.15 559.9 1084.66 561.87 1086.66 562.37 1090.16 561.88 1093.66 562.62 1098.16 562.38 1102.17 560.9 1105.17 562.38 1108.17 563.13 1110.67 561.89 1113.17 562.39 1116.67 560.42 1119.68 561.9 1124.18 563.87 1121.18 566.34 1118.93 569.3 1120.18 571.77 1122.18 571.77 1118.18 569.3 1116.67 568.31 1114.17 565.84 1112.17 565.84 1108.17 567.81 1104.67 568.3 1102.67 570.77 1100.92 574.22 1101.17 577.68 1102.67 576.69 1099.17 575.21 1096.66 573.23 1092.66 571.75 1088.16 570.26 1084.66 569.27 1082.66 570.26 1079.15 569.51 1074.65 568.38 1069.05 566.55 1066.75 563.93 1067.15 565.81 1069.05 564.33 1071.65 561.37 1073.15 559.89 1073.9 560.88 1078.15M531.25 1062.44 533.23 1061.94 534.02 1063.44 532.24 1064.14 531.25 1062.44" fill="none" stroke="#000" stroke-width="2" stroke-linejoin="round" stroke-linecap="round"/>
<path d="M251.29 1415.72 252.87 1417.12M261.76 1425.53 263.93 1428.53M476.71 1244.14 479.08 1242.24M465.76 1257.35 469.51 1253.44M231.19 1342.58 231.88 1342.88" fill="none" stroke="#000" stroke-width="3.2" stroke-linecap="round"/>
<circle cx="164.24" cy="1063.32" r="12.8" fill="#e8ffff"/>
<circle cx="107.55" cy="1144.16" r="12.8" fill="#60ffff"/>
<circle cx="107.15" cy="1145.96" r="12.8" fill="#d0ffff"/>
<circle cx="191.75" cy="1140.86" r="12.8" fill="#d8ffff"/>
<circle cx="194.51" cy="1138.36" r="12.8" fill="#58ffff"/>
<circle cx="293.57" cy="1084.54" r="12.8" fill="#b8ffff"/>
<circle cx="307.44" cy="1081.34" r="12.8" fill="#d0ffff"/>
<circle cx="326.07" cy="1111.06" r="12.8" fill="#e0ffff"/>
<circle cx="218.27" cy="1234.12" r="12.8" fill="#e8ffff"/>
<circle cx="450.27" cy="1138.68" r="12.8" fill="#ffffff"/>
<circle cx="386.13" cy="1166.59" r="12.8" fill="#80ffff"/>
<circle cx="388" cy="1162.79" r="12.8" fill="#70ffff"/>
<circle cx="466.8" cy="1193.81" r="12.8" fill="#fde8e8"/>
<circle cx="463.04" cy="1187.41" r="12.8" fill="#fde8e8"/>
<circle cx="461.56" cy="1180.9" r="12.8" fill="#fcdcdc"/>
<circle cx="545.62" cy="1193.47" r="12.8" fill="#b0ffff"/>
<circle cx="537.52" cy="1190.31" r="12.8" fill="#f8a8a8"/>
<circle cx="521.4" cy="1207.72" r="12.8" fill="#f8c0c0"/>
<circle cx="485.48" cy="1219.43" r="12.8" fill="#fde8e8"/>
<circle cx="487.85" cy="1228.23" r="12.8" fill="#f8b8b8"/>
<circle cx="340.75" cy="1202.11" r="12.8" fill="#00f8f8"/>
<circle cx="376.01" cy="1227.52" r="12.8" fill="#28ffff"/>
<circle cx="421.61" cy="1224.03" r="12.8" fill="#b8ffff"/>
<circle cx="149.68" cy="1252.52" r="12.8" fill="#f87070"/>
<circle cx="297.27" cy="1265.04" r="12.8" fill="#ffffff"/>
<circle cx="317.62" cy="1292.16" r="12.8" fill="#10ffff"/>
<circle cx="133.64" cy="1316.66" r="12.8" fill="#a0ffff"/>
<circle cx="127.25" cy="1346.37" r="12.8" fill="#fdecec"/>
<circle cx="142.68" cy="1388.1" r="12.8" fill="#f89898"/>
<circle cx="229.62" cy="1355.89" r="12.8" fill="#f89898"/>
<circle cx="271.14" cy="1307.36" r="12.8" fill="#18f0f8"/>
<circle cx="274.44" cy="1361.59" r="12.8" fill="#fdecec"/>
<circle cx="282.32" cy="1341.58" r="12.8" fill="#98ffff"/>
<circle cx="336.13" cy="1353.79" r="12.8" fill="#f8c8c8"/>
<circle cx="281.77" cy="1399.51" r="12.8" fill="#70ffff"/>
<circle cx="288.4" cy="1416.42" r="12.8" fill="#80ffff"/>
<circle cx="303.12" cy="1425.03" r="12.8" fill="#40f8f8"/>
<circle cx="373.98" cy="1283.16" r="12.8" fill="#60ffff"/>
<circle cx="402.69" cy="1269.55" r="12.8" fill="#60ffff"/>
<circle cx="415.34" cy="1279.06" r="12.8" fill="#fcdcdc"/>
<circle cx="421.64" cy="1266.05" r="12.8" fill="#ffffff"/>
<circle cx="420.61" cy="1335.99" r="12.8" fill="#e0ffff"/>
<circle cx="405.24" cy="1368.1" r="12.8" fill="#fcdcdc"/>
<circle cx="379.6" cy="1401.02" r="12.8" fill="#60ffff"/>
<circle cx="448.4" cy="1393.62" r="12.8" fill="#50ffff"/>
<circle cx="448.86" cy="1425.24" r="12.8" fill="#28ffff"/>
</g>
<rect x="75.8" y="1029.2" width="507" height="409.1" fill="none" stroke="#000" stroke-width="2"/>
<path d="M143.22 1029.2v6M143.53 1438.3v-6M210.76 1029.2v6M211.08 1438.3v-6M278.3 1029.2v6M278.62 1438.3v-6M345.85 1029.2v6M346.16 1438.3v-6M413.39 1029.2v6M413.71 1438.3v-6M480.93 1029.2v6M481.25 1438.3v-6M548.48 1029.2v6M548.8 1438.3v-6M75.8 1366.98h6M582.8 1367.02h-6M75.8 1299.35h6M582.8 1299.38h-6M75.8 1231.71h6M582.8 1231.74h-6M75.8 1164.07h6M582.8 1164.1h-6M75.8 1096.43h6M582.8 1096.46h-6" stroke="#000" stroke-width="2" fill="none"/>
<text x="237.5" y="1011.3">Hop-r2 model</text>
<text x="59.5" y="1036.25" text-anchor="end" style="font-size:26.9px">60°N</text>
<text x="59.5" y="1171.05" text-anchor="end" style="font-size:26.9px">40°N</text>
<text x="59.5" y="1305.95" text-anchor="end" style="font-size:26.9px">20°N</text>
<text x="59.5" y="1440.75" text-anchor="end" style="font-size:26.9px">0°</text>
<text x="142.3" y="1470.85" text-anchor="middle">80°E</text>
<text x="272.1" y="1470.85" text-anchor="middle">100°E</text>
<text x="406.25" y="1470.85" text-anchor="middle">120°E</text>
<text x="551.7" y="1470.85" text-anchor="middle">140°E</text>
<clipPath id="c5"><rect x="623.3" y="1031.3" width="506.7" height="407"/></clipPath>
<g clip-path="url(#c5)">
<path d="M623.9 1293.4 626.37 1294.89 629.33 1295.13 633.03 1294.14 636.73 1292.14 637.97 1289.16 638.46 1286.17 639.45 1284.93 641.18 1285.67 640.68 1289.16 641.42 1292.14 642.9 1294.38 642.16 1299.11 642.16 1301.1 644.13 1307.07 643.15 1309.06 644.62 1314.03 645.61 1321.99 647.09 1326.97 652.02 1335.92 654.69 1343.88 656.26 1349.85 658.93 1353.83 662.18 1358.5 664.16 1363.78 666.13 1371.74 668.1 1375.72 671.46 1379 674.42 1380.39 677.38 1378.4 678.67 1375.01 681.33 1373.02 684.3 1372.42 684.59 1369.04 686.57 1365.46 689.83 1365.46 690.22 1363.76 689.83 1359.78 689.24 1355.8 691.81 1352.52 693.19 1347.84 692.5 1342.87 691.02 1336.9 691.52 1330.92 693.49 1328.44 697.44 1328.93 698.43 1326.44 702.38 1324.95 706.33 1322.96 706.33 1319.97 710.28 1316.98 715.22 1313 722.13 1308.02 728.06 1302.05 732.01 1301.05 736.35 1297.07 737.94 1294.08 737.54 1291.99 739.17 1289.9 743.66 1288.31 745.74 1285.82 746.58 1287.86 747.81 1289.9 753.54 1288.7 760.15 1287.4 763.41 1284.52 767.95 1281.63 770.82 1284.91 772.1 1290.78 774.17 1294.06 777.82 1298.24 780.29 1300.73 782.76 1301.12 784.04 1303.21 782.76 1305.25 784.43 1307.74 786.9 1308.19 788.53 1313.16 789.37 1318.93 788.08 1323.11 787.29 1326.4 790.55 1328.09 795.48 1328.48 797.95 1326.39 803.78 1323.1 805.36 1320.62 808.27 1322.21 810.69 1327.88 811.68 1334.54 813.94 1341.81 817.2 1349.77 817.89 1356.73 816.4 1364.69 814.23 1372.95 814.62 1378.92 817.19 1379.62 821.04 1384.39 824.29 1387.77 829.72 1394.54 835.64 1403.49 841.56 1413.44 846.5 1421.4 851.43 1428.36 853.41 1425.37 851.43 1418.41 849.36 1411.74 849.76 1404.28 848.97 1400.2 844.83 1396.02 839.89 1392.74 835.85 1388.56 830.02 1386.88 828.44 1382.8 827.16 1378.62 825.09 1374.94 822.82 1368.67 822.82 1360.71 825.79 1353.74 829.44 1345.78 833.69 1346.77 839.61 1350.45 843.56 1353.04 846.52 1357.41 847.8 1360.7 851.16 1363.38 855.11 1363.38 857.08 1365.96 859.35 1367.36 859.05 1373.92 860.34 1375.91 865.57 1371.33 868.93 1370.64 870.9 1368.64 871.5 1364.36 875.45 1364.66 884.04 1362.67 888.98 1356.69 889.97 1348.73 888.68 1342.07 887.3 1335.5 886.02 1331.52 882.77 1328.83 880.79 1326.15 874.18 1321.57 869.54 1316.2 868.95 1313.62 865.59 1310.93 863.62 1306.26 862.34 1300.98 866.29 1294.01 872.21 1292.02 878.14 1291.02 882.09 1289.03 886.73 1288.73 889.3 1290.32 891.96 1291.02 891.96 1295 893.24 1297.68 895.22 1298.28 897.19 1296.29 895.91 1293.7 897.19 1291.71 903.12 1290.01 908.25 1288.02 915.66 1286.03 921.58 1284.03 928.5 1282.04 934.91 1280.54 940.1 1277.56 945.28 1274.07 951.21 1269.09 956.15 1263.12 958.42 1258.44 959.11 1255.16 963.06 1253.16 966.32 1247.89 968.99 1244.5 971.66 1245.2 972.25 1241.92 971.66 1239.93 972.25 1238.53 974.92 1237.93 974.92 1231.27 970.97 1221.32 967.03 1212.66 964.27 1204.4 955.97 1200.23 956.86 1196.95 961.8 1192.76 966.74 1190.27 967.53 1187.78 976.61 1186.19 978.64 1183.7 974.15 1182.41 968.32 1180.77 965.06 1180.77 960.13 1183.71 956.87 1184.9 954.4 1182.82 953.12 1180.33 947 1177.05 945.32 1174.56 947 1171.68 950.26 1171.67 954.4 1171.27 957.66 1167.09 963.39 1164.6 969.22 1159.62 974.15 1160.02 976.62 1162.9 972.87 1166.29 970.79 1168.78 972.08 1171.66 969.61 1173.75 974.15 1172.06 977.41 1169.17 983.14 1167.48 988.96 1166.68 997.95 1169.16 996.36 1174.54 993.89 1178.72 996.76 1180.31 999.62 1185.48 1000.6 1191.45 1003.56 1201.1 1004.85 1203.69 1010.47 1204.38 1016.4 1202.39 1022.03 1199.4 1025.98 1193.43 1025.98 1189.15 1024.6 1184.47 1020.65 1178.5 1014.43 1172.54 1011.47 1169.55 1010.49 1166.57 1015.92 1165.57 1021.35 1162.58 1026.29 1160.09 1025.79 1155.12 1029.25 1151.63 1033.2 1150.63 1034.19 1148.15 1037.15 1148.14 1040.61 1143.66 1044.56 1143.66 1044.56 1145.65 1049.49 1147.64 1053.94 1146.64 1058.87 1143.16 1063.81 1141.16 1066.48 1138.38 1067.76 1135.69 1073 1132.4 1076.16 1129.22 1081.1 1124.74 1084.55 1121.25 1086.04 1117.27 1089.99 1113.79 1093.44 1110.8 1097.39 1108.31 1098.38 1105.32 1100.11 1102.34 1100.11 1098.85 1099.12 1095.87 1099.13 1092.39 1100.36 1088.9 1103.32 1085.42 1105.3 1083.43 1103.82 1079.94 1105.55 1076.46 1098.89 1073.48 1097.41 1071.24 1094.44 1070.1 1088.52 1069.75 1083.34 1073.49 1078.89 1074.98 1080.37 1069.41 1076.67 1070.51 1073.71 1073.09 1073.32 1067.52 1068.53 1068.27 1063.74 1066.78 1064.09 1064.54 1068.53 1062.65 1073.71 1059.66 1079.64 1056.32 1083.34 1054.08 1087.05 1051.49 1091.49 1048.51 1095.93 1046.61 1099.64 1044.37 1103.34 1041.39 1107.78 1039.89 1110.75 1037.25 1114.45 1035.76 1121.86 1035.4 1130.99 1035.75M623.41 1280.21 626.17 1280.71 624.89 1284.19 623.41 1284.69M689.82 1375.01 691.21 1371.72 691.5 1368.44 695.75 1370.43 699.1 1375.7 703.05 1382.96 703.64 1386.94 702.65 1391.62 699.39 1396.6 694.46 1397.59 690.51 1392.62 689.03 1384.66 689.82 1375.01M885.34 1304.25 889.29 1301.27 893.93 1299.97 900.55 1299.97 900.15 1302.95 897.88 1306.24 896.6 1308.93 892.65 1311.61 888.7 1312.21 885.34 1310.22 884.35 1306.94 885.34 1304.25M973.43 1264.6 974.91 1269.08 972.43 1280.03 968.48 1287.99 965.03 1281.03 966.51 1272.07 969.48 1266.1 973.43 1264.6M651.11 1132.92 646.67 1127.95 648.64 1123.47 655.06 1119.88 663.95 1119.98 671.35 1120.87 676.78 1120.87 682.21 1120.17 685.96 1120.37 683.69 1121.86 677.77 1122.36 671.35 1121.87 663.95 1121.47 657.53 1122.27 652.59 1124.96 651.85 1127.45 651.11 1132.92M862.41 1085.54 868.04 1080.86 870.91 1079.27 875.01 1076.33 881.18 1072.2 884.44 1068.02 887.8 1063.89 888.98 1060.55 890.66 1059.56 893.52 1060.75 892.29 1063.89 890.66 1067.62 890.06 1071.35 887.79 1074.68 883.65 1077.57 879.1 1080.46 874.17 1081.31 870.51 1082.55 868.04 1084.25 862.41 1085.54M825.95 1438.32 825.07 1434.15 821.02 1432.56 819.34 1426.69 817.67 1422.61 815.2 1420.92 811.15 1418.43 810.71 1415.94 807.01 1411.77 804.54 1409.28 801.28 1407.69 796.74 1402.72 794.67 1398.54 794.28 1396.45 797.14 1396.05 801.29 1398.14 808.69 1398.53 811.95 1401.02 815.2 1405.99 818.56 1409.27 823.5 1411.76 828.73 1415.44 834.65 1421.4 840.57 1428.37 844.52 1438.31M887.66 1438.29 887.66 1433.32 886.28 1428.64 886.98 1424.06 890.24 1421.08 893.59 1422.67 900.8 1424.06 903.47 1415.4 910.68 1414.1 913.94 1412.11 916.6 1408.72 921.54 1404.44 927.47 1399.46 932.4 1395.48 936.36 1391.8 941 1387.22 946.23 1390.8 946.23 1394.78 950.87 1396.76 956.4 1399.45 950.17 1401.44 951.46 1404.72 946.92 1405.42 946.22 1409.4 943.95 1412.69 946.22 1416.07 948.19 1419.35 946.91 1421.34 950.17 1424.63 954.11 1428.01 946.91 1429.3 944.24 1433.98 943.25 1438.26M960.03 1438.25 960.04 1434.97 960.73 1429 965.96 1428.6 967.25 1425.61 975.15 1427 983.04 1428.29 990.65 1429.28 996.57 1427.29 1000.52 1428.28 996.57 1431.27 990.64 1432.27 984.42 1432.27 976.53 1430.98 966.65 1430.99 964.48 1438.25M1012.07 1434.94 1010.69 1426.98 1013.36 1421.01 1015.33 1419.62 1016.02 1424.99 1019.28 1423.59 1019.97 1427.57 1016.02 1430.26 1018.59 1431.56 1013.35 1432.26 1012.07 1434.94M963.53 1324.81 964.27 1319.34 963.53 1316.35 965.02 1310.38 967.98 1309.39 969.95 1310.38 972.42 1311.37 974.89 1310.87 977.11 1310.13 975.88 1313.86 975.88 1316.84 977.85 1319.33 977.35 1321.82 975.38 1324.81 976.86 1330.77 978.83 1336.74 981.3 1339.23 987.71 1341.72 985.25 1343.21 986.73 1346.19 989.69 1347.68 987.22 1348.68 983.76 1346.69 981.3 1343.71 979.32 1345.2 976.85 1344.71 972.9 1346.7 971.42 1350.68 969.45 1352.67 966.98 1350.18 965.99 1345.71 963.03 1340.73 960.07 1333.77 961.06 1328.79 963.53 1324.81M973.64 1354.46 978.23 1355.35 978.82 1357.14 982.87 1357.39 982.28 1360.87 985.14 1362.02 984.55 1364.36 987.46 1363.21 988 1359.73 988.59 1366.09 991.46 1366.69 991.46 1369.58 988 1370.17 986.92 1368.38 984 1369.58 983.46 1371.87 981.68 1373.66 978.82 1371.87 977.34 1368.99 980 1367.29 980.01 1364.36 977.64 1363.21 974.18 1363.81 974.78 1357.39 973.64 1354.46M990.38 1350.97 996.7 1350.42 998.97 1353.35 998.97 1356.24 999.56 1360.32 994.92 1360.32 996.1 1363.2 996.69 1365.49 993.24 1366.09 992.64 1363.21 990.92 1362.01 991.16 1357.39 994.37 1356.84 994.92 1355.05 991.46 1353.9 990.38 1350.97M997.83 1368.38 1002.42 1371.86 1004.73 1375.94 1004.73 1379.42 1006.16 1383.5 1006.16 1386.39 1004.48 1390.47 999.54 1394.45 992.63 1392.46 989.67 1386.49 988 1382.91 985.13 1382.32 981.08 1385.25 980 1382.92 977.09 1382.32 975.36 1385.8 975.06 1388.74 974.47 1384.71 975.36 1381.77 978.82 1379.43 981.09 1377.74 984 1376.55 986.91 1377.74 988 1379.43 989.78 1377.74 993.23 1376.54 993.82 1374.25 996.1 1374.8 998.96 1373.05 997.83 1368.38M1096.39 1160.85 1096.68 1167.52 1096.09 1170.8 1093.42 1174.19 1092.14 1177.47 1089.17 1179.36 1081.57 1181.46 1074.16 1184.05 1072.98 1188.13 1069.52 1191.61 1068.98 1194.5 1064.09 1193.7 1047.01 1195.7 1035.16 1203.67 1034.46 1206.36 1039.1 1205.86 1042.07 1205.36 1048.98 1203.37 1055.89 1201.87 1061.81 1202.36 1067.74 1208.33 1073.66 1205.34 1080.57 1203.35 1088.47 1202.85 1094.99 1198.27 1102.3 1195.38 1102.99 1185.72 1103.54 1182.24 1102.4 1178.76 1103.54 1177.07 1106.45 1176.47 1106.45 1174.73 1108.72 1172.39 1109.32 1169.5 1109.91 1168.21 1108.53 1164.82 1105.27 1160.25 1105.97 1156.27 1103.3 1156.87 1101.32 1158.26 1098.07 1158.26 1096.39 1160.85M1034.46 1206.36 1037.13 1206.16 1041.77 1207.35 1043.05 1213.32 1040.09 1220.29 1034.16 1222.28 1031.2 1216.31 1030.22 1210.34 1034.46 1206.36M1044.04 1209.34 1049.27 1212.32 1051.94 1209.83 1055.59 1208.64 1058.85 1210.33 1061.81 1209.33 1058.85 1205.35 1051.94 1206.35 1047 1207.35 1044.04 1209.34M1096.09 1155.58 1095.4 1150.9 1094.71 1148.91 1096.69 1146.92 1099.35 1145.32 1098.66 1143.34 1104.59 1144.63 1105.28 1141.64 1104.98 1140.35 1107.95 1138.95 1108.54 1134.37 1106.57 1130.39 1109.23 1128.4 1113.18 1131.68 1115.16 1133.67 1120.39 1136.96 1126.31 1138.64 1130.95 1138.94 1130.95 1145.61 1125.02 1144.91 1119.79 1148.3 1118.41 1152.28 1113.17 1150.59 1108.54 1148.31 1103.99 1149.3 1100.04 1148.31 1098.07 1149.6 1100.04 1150.9 1103.99 1152.89 1101.33 1154.28 1097.38 1155.87 1096.09 1155.58M1108.76 1079.94 1107.77 1082.93 1107.77 1086.41 1109.74 1088.4 1110.23 1091.88 1109.74 1095.37 1110.48 1099.84 1110.23 1103.82 1108.75 1106.81 1110.23 1109.79 1110.97 1112.28 1109.73 1114.77 1110.22 1118.25 1108.25 1121.24 1109.73 1125.72 1111.7 1122.73 1114.17 1120.49 1117.13 1121.73 1119.6 1123.72 1119.6 1119.74 1117.14 1118.25 1116.15 1115.76 1113.68 1113.77 1113.68 1109.79 1115.66 1106.31 1116.15 1104.32 1118.62 1102.58 1122.08 1102.82 1125.53 1104.31 1124.55 1100.83 1123.07 1098.34 1121.09 1094.36 1119.61 1089.89 1118.13 1086.41 1117.15 1084.42 1118.14 1080.93 1117.4 1076.45 1116.26 1070.88 1114.44 1068.6 1111.82 1068.99 1113.7 1070.88 1112.22 1073.47 1109.25 1074.97 1107.77 1075.71 1108.76 1079.94M1079.14 1064.33 1081.12 1063.84 1081.91 1065.33 1080.13 1066.03 1079.14 1064.33" fill="none" stroke="#000" stroke-width="2" stroke-linejoin="round" stroke-linecap="round"/>
<path d="M798.71 1415.85 800.29 1417.24M809.17 1425.6 811.35 1428.58M1024.38 1245.07 1026.75 1243.18M1013.42 1258.21 1017.17 1254.33M778.7 1343.12 779.39 1343.42" fill="none" stroke="#000" stroke-width="3.2" stroke-linecap="round"/>
<circle cx="712.05" cy="1065.42" r="12.8" fill="#e8ffff"/>
<circle cx="655.25" cy="1145.86" r="12.8" fill="#60ffff"/>
<circle cx="654.85" cy="1147.65" r="12.8" fill="#e8ffff"/>
<circle cx="739.47" cy="1142.53" r="12.8" fill="#e8ffff"/>
<circle cx="742.24" cy="1140.04" r="12.8" fill="#6cffff"/>
<circle cx="841.38" cy="1086.45" r="12.8" fill="#80ffff"/>
<circle cx="855.26" cy="1083.26" r="12.8" fill="#b0ffff"/>
<circle cx="873.86" cy="1112.8" r="12.8" fill="#e8ffff"/>
<circle cx="765.9" cy="1235.26" r="12.8" fill="#d0ffff"/>
<circle cx="998.06" cy="1140.2" r="12.8" fill="#fde8e8"/>
<circle cx="933.87" cy="1168" r="12.8" fill="#b0ffff"/>
<circle cx="935.75" cy="1164.22" r="12.8" fill="#a8ffff"/>
<circle cx="1014.52" cy="1195.02" r="12.8" fill="#ffffff"/>
<circle cx="1010.77" cy="1188.66" r="12.8" fill="#fcdcdc"/>
<circle cx="1009.3" cy="1182.19" r="12.8" fill="#fcdcdc"/>
<circle cx="1093.36" cy="1194.63" r="12.8" fill="#a8ffff"/>
<circle cx="1085.27" cy="1191.5" r="12.8" fill="#fcc8c8"/>
<circle cx="1069.12" cy="1208.83" r="12.8" fill="#fcd0d0"/>
<circle cx="1033.18" cy="1220.49" r="12.8" fill="#f8b0b0"/>
<circle cx="1035.54" cy="1229.24" r="12.8" fill="#f8b0b0"/>
<circle cx="888.44" cy="1203.35" r="12.8" fill="#10f8f8"/>
<circle cx="923.68" cy="1228.61" r="12.8" fill="#10ffff"/>
<circle cx="969.29" cy="1225.1" r="12.8" fill="#a8ffff"/>
<circle cx="697.27" cy="1253.6" r="12.8" fill="#f87070"/>
<circle cx="844.87" cy="1265.96" r="12.8" fill="#ffffff"/>
<circle cx="865.2" cy="1292.92" r="12.8" fill="#10ffff"/>
<circle cx="681.16" cy="1317.4" r="12.8" fill="#e8ffff"/>
<circle cx="674.73" cy="1346.95" r="12.8" fill="#fcc8c8"/>
<circle cx="690.11" cy="1388.44" r="12.8" fill="#fcdcdc"/>
<circle cx="777.11" cy="1356.35" r="12.8" fill="#f8b8b8"/>
<circle cx="818.69" cy="1308.07" r="12.8" fill="#70ffff"/>
<circle cx="821.93" cy="1362" r="12.8" fill="#e8ffff"/>
<circle cx="829.84" cy="1342.1" r="12.8" fill="#98ffff"/>
<circle cx="883.65" cy="1354.21" r="12.8" fill="#fde8e8"/>
<circle cx="829.23" cy="1399.71" r="12.8" fill="#30ffff"/>
<circle cx="835.84" cy="1416.53" r="12.8" fill="#40ffff"/>
<circle cx="850.54" cy="1425.08" r="12.8" fill="#70ffff"/>
<circle cx="921.58" cy="1283.94" r="12.8" fill="#60ffff"/>
<circle cx="950.32" cy="1270.39" r="12.8" fill="#40ffff"/>
<circle cx="962.95" cy="1279.83" r="12.8" fill="#fcdcdc"/>
<circle cx="969.28" cy="1266.89" r="12.8" fill="#fcc0c0"/>
<circle cx="968.17" cy="1336.45" r="12.8" fill="#c8ffff"/>
<circle cx="952.75" cy="1368.4" r="12.8" fill="#e8ffff"/>
<circle cx="927.07" cy="1401.15" r="12.8" fill="#50ffff"/>
<circle cx="995.89" cy="1393.75" r="12.8" fill="#58ffff"/>
<circle cx="996.32" cy="1425.2" r="12.8" fill="#08f8f8"/>
</g>
<rect x="623.3" y="1031.3" width="506.7" height="407" fill="none" stroke="#000" stroke-width="2"/>
<path d="M691.06 1031.3v6M690.91 1438.3v-6M758.62 1031.3v6M758.47 1438.3v-6M826.17 1031.3v6M826.03 1438.3v-6M893.73 1031.3v6M893.59 1438.3v-6M961.29 1031.3v6M961.15 1438.3v-6M1028.85 1031.3v6M1028.7 1438.3v-6M1096.41 1031.3v6M1096.26 1438.3v-6M623.3 1367.48h6M1130 1367.21h-6M623.3 1300.21h6M1130 1299.95h-6M623.3 1232.94h6M1130 1232.68h-6M623.3 1165.68h6M1130 1165.41h-6M623.3 1098.41h6M1130 1098.14h-6" stroke="#000" stroke-width="2" fill="none"/>
<text x="798.3" y="1011.3">Saas-r2 model</text>
<text x="1141" y="1036.25" style="font-size:26.9px">60°N</text>
<text x="1141" y="1172.15" style="font-size:26.9px">40°N</text>
<text x="1141" y="1307.05" style="font-size:26.9px">20°N</text>
<text x="1141" y="1442.95" style="font-size:26.9px">0°</text>
<text x="686.9" y="1470.85" text-anchor="middle">80°E</text>
<text x="824.8" y="1470.85" text-anchor="middle">100°E</text>
<text x="958.75" y="1470.85" text-anchor="middle">120°E</text>
<text x="1104.2" y="1470.85" text-anchor="middle">140°E</text>
<rect x="354.00" y="1509" width="8.31" height="21.200000000000045" fill="#00008a"/><rect x="361.71" y="1509" width="8.31" height="21.200000000000045" fill="#000092"/><rect x="369.42" y="1509" width="8.31" height="21.200000000000045" fill="#000099"/><rect x="377.12" y="1509" width="8.31" height="21.200000000000045" fill="#0000a1"/><rect x="384.83" y="1509" width="8.31" height="21.200000000000045" fill="#0000a9"/><rect x="392.54" y="1509" width="8.31" height="21.200000000000045" fill="#0000b1"/><rect x="400.25" y="1509" width="8.31" height="21.200000000000045" fill="#0000b9"/><rect x="407.95" y="1509" width="8.31" height="21.200000000000045" fill="#0000c0"/><rect x="415.66" y="1509" width="8.31" height="21.200000000000045" fill="#0000c8"/><rect x="423.37" y="1509" width="8.31" height="21.200000000000045" fill="#0000d0"/><rect x="431.08" y="1509" width="8.31" height="21.200000000000045" fill="#0000d8"/><rect x="438.78" y="1509" width="8.31" height="21.200000000000045" fill="#0000e0"/><rect x="446.49" y="1509" width="8.31" height="21.200000000000045" fill="#0000e7"/><rect x="454.20" y="1509" width="8.31" height="21.200000000000045" fill="#0d1cfe"/><rect x="461.91" y="1509" width="8.31" height="21.200000000000045" fill="#1126fc"/><rect x="469.62" y="1509" width="8.31" height="21.200000000000045" fill="#1530fb"/><rect x="477.32" y="1509" width="8.31" height="21.200000000000045" fill="#1a3af9"/><rect x="485.03" y="1509" width="8.31" height="21.200000000000045" fill="#1e45f8"/><rect x="492.74" y="1509" width="8.31" height="21.200000000000045" fill="#224ff6"/><rect x="500.45" y="1509" width="8.31" height="21.200000000000045" fill="#2659f4"/><rect x="508.15" y="1509" width="8.31" height="21.200000000000045" fill="#2a63f3"/><rect x="515.86" y="1509" width="8.31" height="21.200000000000045" fill="#2e6df1"/><rect x="523.57" y="1509" width="8.31" height="21.200000000000045" fill="#3277f0"/><rect x="531.28" y="1509" width="8.31" height="21.200000000000045" fill="#3682ee"/><rect x="538.98" y="1509" width="8.31" height="21.200000000000045" fill="#3a8ced"/><rect x="546.69" y="1509" width="8.31" height="21.200000000000045" fill="#44bee9"/><rect x="554.40" y="1509" width="8.31" height="21.200000000000045" fill="#3dc4eb"/><rect x="562.11" y="1509" width="8.31" height="21.200000000000045" fill="#37caed"/><rect x="569.82" y="1509" width="8.31" height="21.200000000000045" fill="#31d0ef"/><rect x="577.52" y="1509" width="8.31" height="21.200000000000045" fill="#2ad7f1"/><rect x="585.23" y="1509" width="8.31" height="21.200000000000045" fill="#24ddf3"/><rect x="592.94" y="1509" width="8.31" height="21.200000000000045" fill="#1de3f5"/><rect x="600.65" y="1509" width="8.31" height="21.200000000000045" fill="#17e9f7"/><rect x="608.35" y="1509" width="8.31" height="21.200000000000045" fill="#10effa"/><rect x="616.06" y="1509" width="8.31" height="21.200000000000045" fill="#0af5fc"/><rect x="623.77" y="1509" width="8.31" height="21.200000000000045" fill="#04fcfe"/><rect x="631.48" y="1509" width="8.31" height="21.200000000000045" fill="#09ffff"/><rect x="639.18" y="1509" width="8.31" height="21.200000000000045" fill="#1fffff"/><rect x="646.89" y="1509" width="8.31" height="21.200000000000045" fill="#35ffff"/><rect x="654.60" y="1509" width="8.31" height="21.200000000000045" fill="#4bffff"/><rect x="662.31" y="1509" width="8.31" height="21.200000000000045" fill="#60ffff"/><rect x="670.02" y="1509" width="8.31" height="21.200000000000045" fill="#76ffff"/><rect x="677.72" y="1509" width="8.31" height="21.200000000000045" fill="#8cffff"/><rect x="685.43" y="1509" width="8.31" height="21.200000000000045" fill="#a2ffff"/><rect x="693.14" y="1509" width="8.31" height="21.200000000000045" fill="#b8ffff"/><rect x="700.85" y="1509" width="8.31" height="21.200000000000045" fill="#cbffff"/><rect x="708.55" y="1509" width="8.31" height="21.200000000000045" fill="#dcffff"/><rect x="716.26" y="1509" width="8.31" height="21.200000000000045" fill="#edffff"/><rect x="723.97" y="1509" width="8.31" height="21.200000000000045" fill="#ffffff"/><rect x="731.68" y="1509" width="8.31" height="21.200000000000045" fill="#ffffff"/><rect x="739.38" y="1509" width="8.31" height="21.200000000000045" fill="#ffefef"/><rect x="747.09" y="1509" width="8.31" height="21.200000000000045" fill="#ffdfdf"/><rect x="754.80" y="1509" width="8.31" height="21.200000000000045" fill="#ffcece"/><rect x="762.51" y="1509" width="8.31" height="21.200000000000045" fill="#ffbebe"/><rect x="770.22" y="1509" width="8.31" height="21.200000000000045" fill="#ffadad"/><rect x="777.92" y="1509" width="8.31" height="21.200000000000045" fill="#ff9d9d"/><rect x="785.63" y="1509" width="8.31" height="21.200000000000045" fill="#ff8c8c"/><rect x="793.34" y="1509" width="8.31" height="21.200000000000045" fill="#ff7c7c"/><rect x="801.05" y="1509" width="8.31" height="21.200000000000045" fill="#ff6b6b"/><rect x="808.75" y="1509" width="8.31" height="21.200000000000045" fill="#ff5b5b"/><rect x="816.46" y="1509" width="8.31" height="21.200000000000045" fill="#ff4a4a"/><rect x="824.17" y="1509" width="8.31" height="21.200000000000045" fill="#ff3a3a"/><rect x="831.88" y="1509" width="8.31" height="21.200000000000045" fill="#ff2929"/><rect x="839.58" y="1509" width="8.31" height="21.200000000000045" fill="#ff1919"/><rect x="847.29" y="1509" width="8.31" height="21.200000000000045" fill="#ff0808"/><rect x="354" y="1509" width="501" height="21.200000000000045" fill="none" stroke="#000" stroke-width="2"/><path d="M361.2 1530.2v-4M446.8 1530.2v-4M539.2 1530.2v-4M632 1530.2v-4M724.5 1530.2v-4M817 1530.2v-4" stroke="#000" stroke-width="1.6"/><text x="361.2" y="1565" text-anchor="middle">−100</text><text x="446.8" y="1565" text-anchor="middle">−75</text><text x="539.2" y="1565" text-anchor="middle">−50</text><text x="632" y="1565" text-anchor="middle">−25</text><text x="724.5" y="1565" text-anchor="middle">0</text><text x="804.5" y="1565">25 mm</text>
</svg></body></html>
